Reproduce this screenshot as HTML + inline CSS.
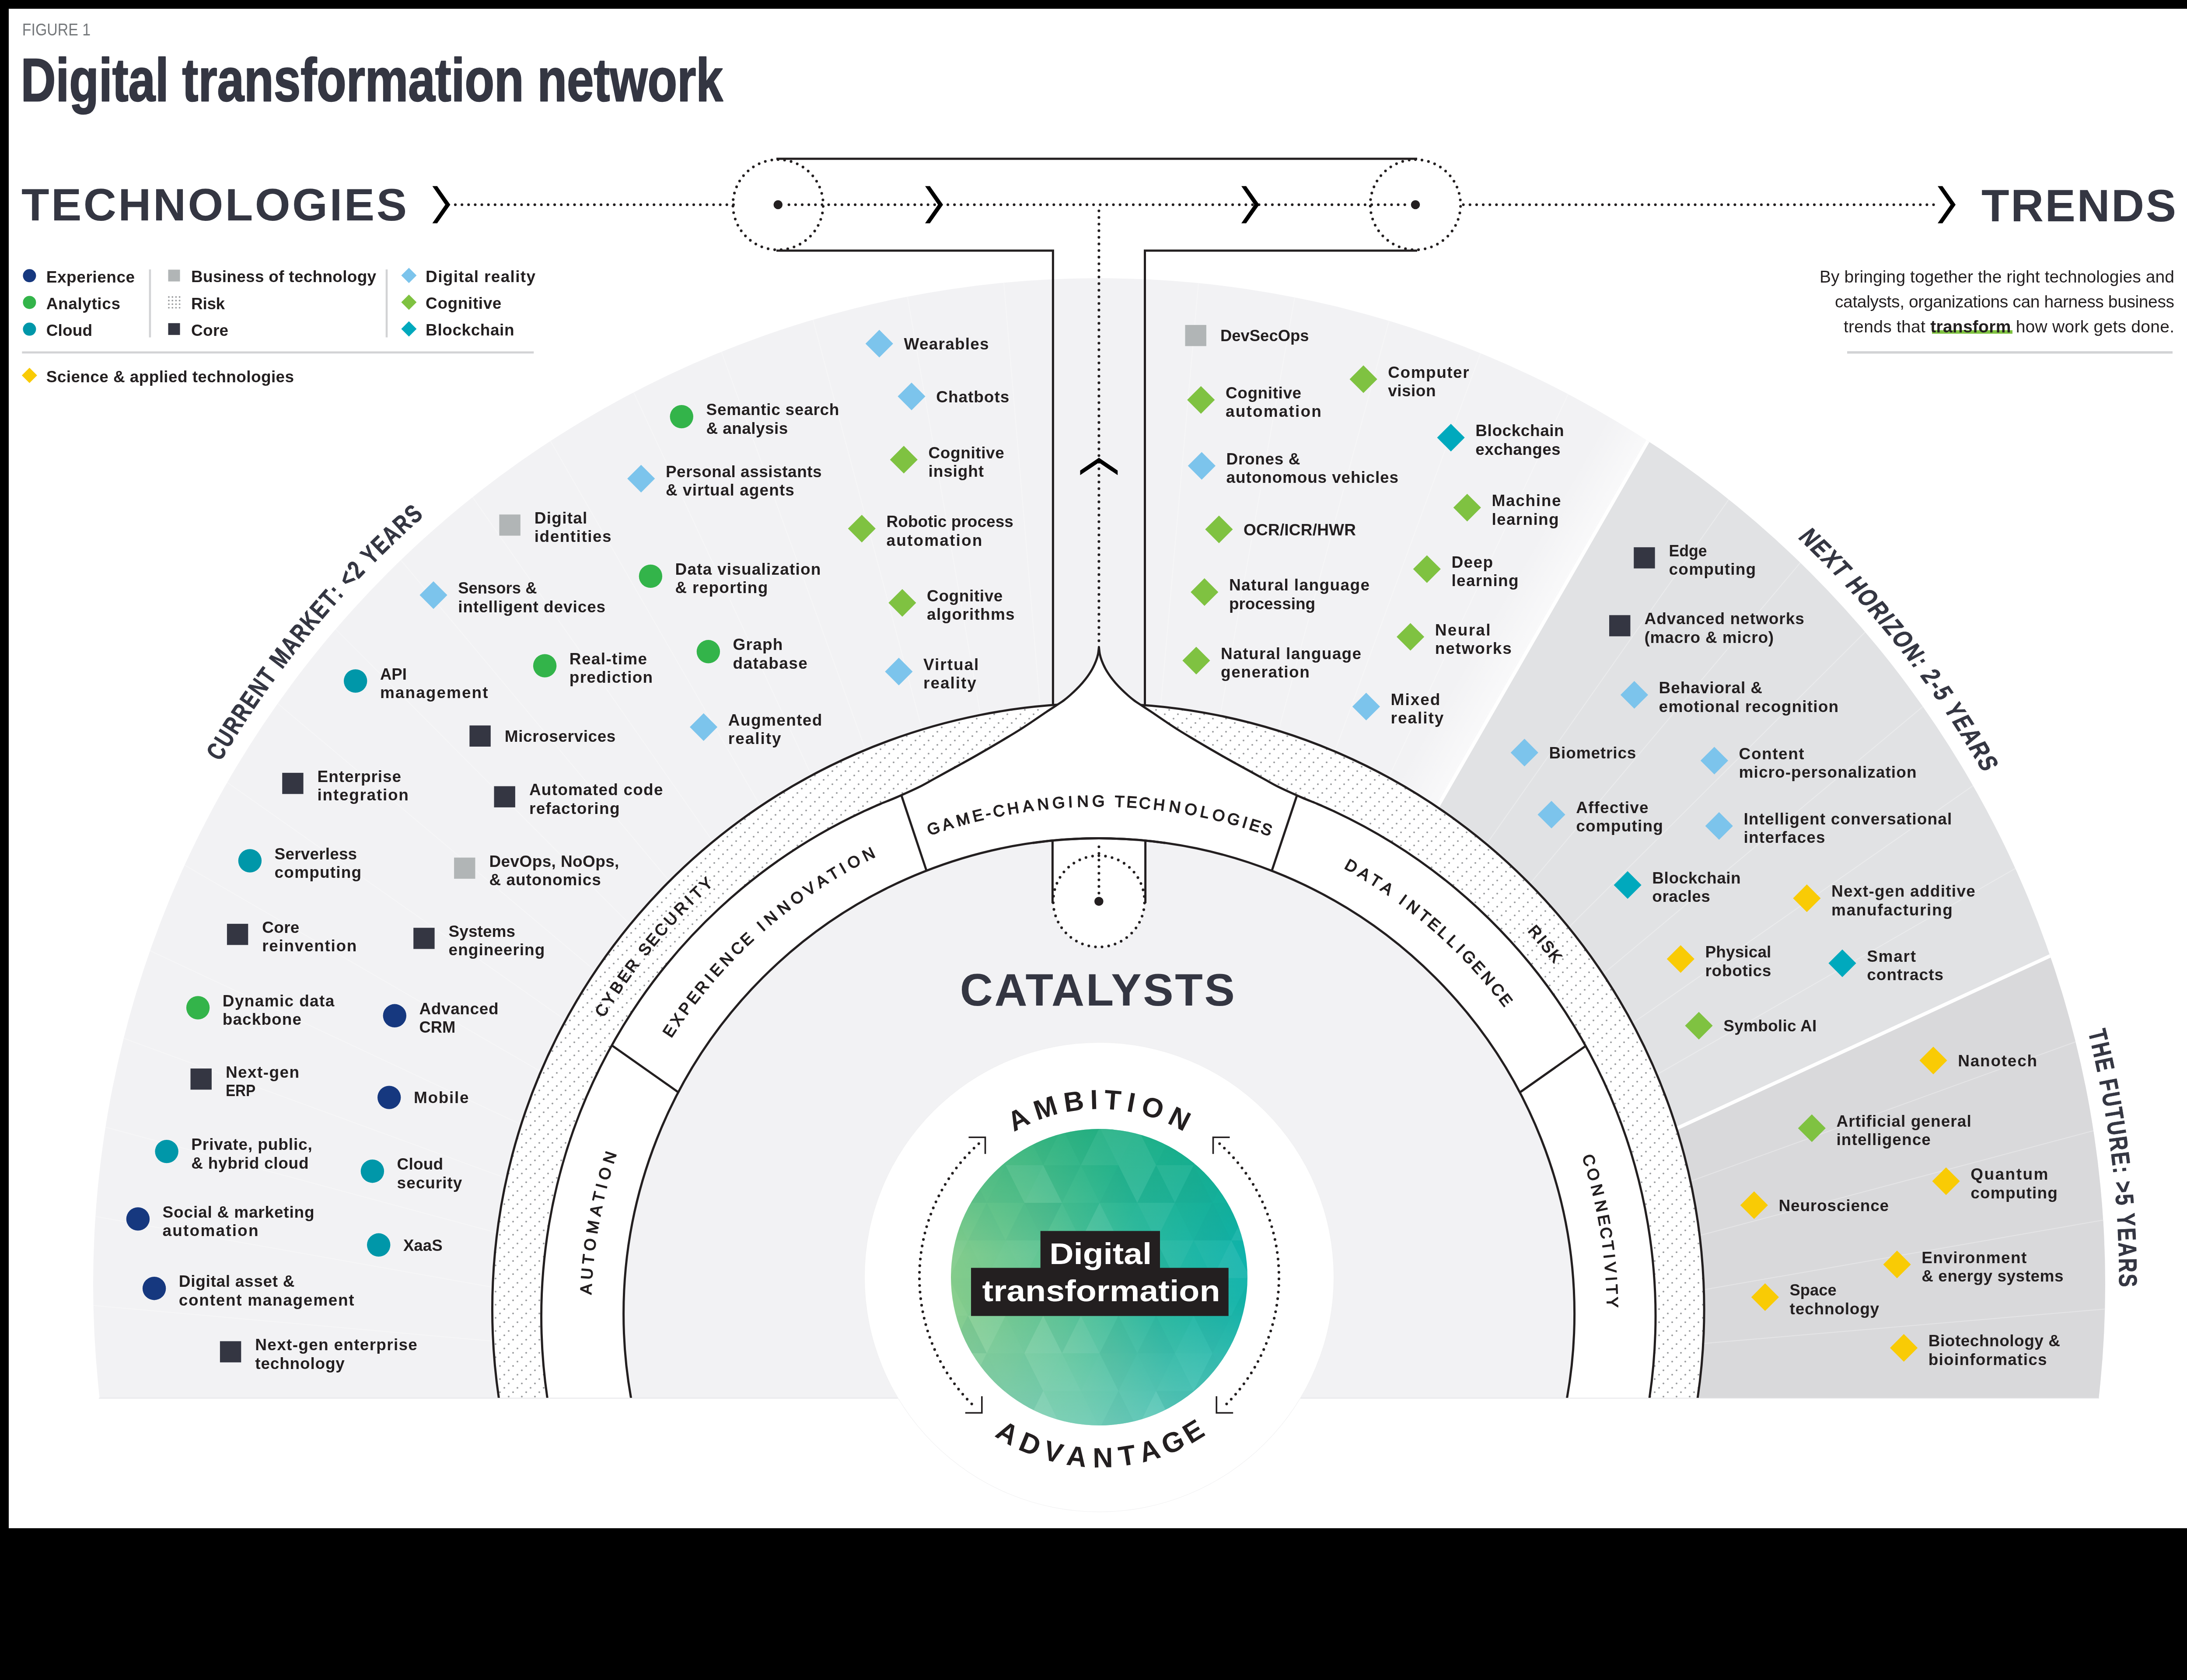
<!DOCTYPE html>
<html><head><meta charset="utf-8"><title>Digital transformation network</title><style>html,body{margin:0;padding:0;background:#000}svg{display:block;will-change:transform}</style></head><body>
<svg width="5040" height="3841" viewBox="0 0 5040 3841" font-family="Liberation Sans, sans-serif">
<defs>
<clipPath id="cut"><rect x="0" y="0" width="5040" height="3196"/></clipPath>
<clipPath id="oc"><circle cx="2513" cy="2936" r="2300"/></clipPath>
<pattern id="dots" width="30" height="30" patternUnits="userSpaceOnUse"><circle cx="3" cy="3" r="2.1" fill="#9b9d9f"/><circle cx="23" cy="13" r="2.1" fill="#9b9d9f"/><circle cx="13" cy="23" r="2.1" fill="#9b9d9f"/></pattern>
<linearGradient id="gg" x1="0" y1="0.62" x2="1" y2="0.38"><stop offset="0" stop-color="#8ace8b"/><stop offset="0.35" stop-color="#60c595"/><stop offset="0.65" stop-color="#2bb9a0"/><stop offset="1" stop-color="#0eb3ad"/></linearGradient>
<linearGradient id="lb" gradientUnits="userSpaceOnUse" x1="3260.7" y1="1889.7" x2="3165.4" y2="1834.8"><stop offset="0" stop-color="#fff" stop-opacity="0.55"/><stop offset="1" stop-color="#fff" stop-opacity="0"/></linearGradient>
<linearGradient id="gv" x1="0" y1="0" x2="0" y2="1"><stop offset="0" stop-color="#17a868" stop-opacity="0.5"/><stop offset="0.42" stop-color="#17a868" stop-opacity="0"/><stop offset="0.58" stop-color="#8fd8dc" stop-opacity="0"/><stop offset="1" stop-color="#8fd8dc" stop-opacity="0.5"/></linearGradient>
<clipPath id="gc"><circle cx="2513" cy="2920" r="339"/></clipPath>
</defs>
<rect width="5040" height="3841" fill="#000"/>
<rect x="20" y="20" width="5000" height="3474" fill="#fff"/>
<g clip-path="url(#cut)"><g clip-path="url(#oc)">
<rect x="0" y="0" width="5040" height="3841" fill="#f2f2f4"/>
<polygon points="2513,3190 4507,-277.6 6000,-1000 6144.1,1512.2" fill="#e1e2e4"/>
<polygon points="2513,3190 6144.1,1512.2 6000,3000 6452.2,3884.6" fill="#d9d9db"/>
<polygon points="2513,3190 4507,-277.6 4411.6,-332.4 2417.6,3135.2" fill="url(#lb)"/>
<line x1="2513" y1="3190" x2="-1471.2" y2="2834.4" stroke="#fff" stroke-opacity="0.3" stroke-width="2.2"/>
<line x1="2513" y1="3190" x2="-1425" y2="2488.5" stroke="#fff" stroke-opacity="0.3" stroke-width="2.2"/>
<line x1="2513" y1="3190" x2="-1348.9" y2="2148" stroke="#fff" stroke-opacity="0.3" stroke-width="2.2"/>
<line x1="2513" y1="3190" x2="-1243.4" y2="1815.4" stroke="#fff" stroke-opacity="0.3" stroke-width="2.2"/>
<line x1="2513" y1="3190" x2="-1109.3" y2="1493.2" stroke="#fff" stroke-opacity="0.3" stroke-width="2.2"/>
<line x1="2513" y1="3190" x2="-947.6" y2="1184" stroke="#fff" stroke-opacity="0.3" stroke-width="2.2"/>
<line x1="2513" y1="3190" x2="-759.6" y2="890" stroke="#fff" stroke-opacity="0.3" stroke-width="2.2"/>
<line x1="2513" y1="3190" x2="-546.7" y2="613.5" stroke="#fff" stroke-opacity="0.3" stroke-width="2.2"/>
<line x1="2513" y1="3190" x2="-310.5" y2="356.6" stroke="#fff" stroke-opacity="0.3" stroke-width="2.2"/>
<line x1="2513" y1="3190" x2="-52.8" y2="121.3" stroke="#fff" stroke-opacity="0.3" stroke-width="2.2"/>
<line x1="2513" y1="3190" x2="224.4" y2="-90.6" stroke="#fff" stroke-opacity="0.3" stroke-width="2.2"/>
<line x1="2513" y1="3190" x2="519" y2="-277.6" stroke="#fff" stroke-opacity="0.3" stroke-width="2.2"/>
<line x1="2513" y1="3190" x2="828.9" y2="-438.2" stroke="#fff" stroke-opacity="0.3" stroke-width="2.2"/>
<line x1="2513" y1="3190" x2="1151.5" y2="-571.2" stroke="#fff" stroke-opacity="0.3" stroke-width="2.2"/>
<line x1="2513" y1="3190" x2="1484.5" y2="-675.5" stroke="#fff" stroke-opacity="0.3" stroke-width="2.2"/>
<line x1="2513" y1="3190" x2="1825.3" y2="-750.4" stroke="#fff" stroke-opacity="0.3" stroke-width="2.2"/>
<line x1="2513" y1="3190" x2="2171.3" y2="-795.4" stroke="#fff" stroke-opacity="0.3" stroke-width="2.2"/>
<line x1="2513" y1="3190" x2="2868.6" y2="-794.2" stroke="#fff" stroke-opacity="0.3" stroke-width="2.2"/>
<line x1="2513" y1="3190" x2="3214.5" y2="-748" stroke="#fff" stroke-opacity="0.3" stroke-width="2.2"/>
<line x1="2513" y1="3190" x2="3555" y2="-671.9" stroke="#fff" stroke-opacity="0.3" stroke-width="2.2"/>
<line x1="2513" y1="3190" x2="3887.6" y2="-566.4" stroke="#fff" stroke-opacity="0.3" stroke-width="2.2"/>
<line x1="2513" y1="3190" x2="4209.8" y2="-432.3" stroke="#fff" stroke-opacity="0.3" stroke-width="2.2"/>
<line x1="2513" y1="3190" x2="4813" y2="-82.6" stroke="#fff" stroke-opacity="0.3" stroke-width="2.2"/>
<line x1="2513" y1="3190" x2="5089.5" y2="130.3" stroke="#fff" stroke-opacity="0.3" stroke-width="2.2"/>
<line x1="2513" y1="3190" x2="5346.4" y2="366.5" stroke="#fff" stroke-opacity="0.3" stroke-width="2.2"/>
<line x1="2513" y1="3190" x2="5581.7" y2="624.2" stroke="#fff" stroke-opacity="0.3" stroke-width="2.2"/>
<line x1="2513" y1="3190" x2="5793.6" y2="901.4" stroke="#fff" stroke-opacity="0.3" stroke-width="2.2"/>
<line x1="2513" y1="3190" x2="5980.6" y2="1196" stroke="#fff" stroke-opacity="0.3" stroke-width="2.2"/>
<line x1="2513" y1="3190" x2="6274.2" y2="1828.5" stroke="#fff" stroke-opacity="0.3" stroke-width="2.2"/>
<line x1="2513" y1="3190" x2="6378.5" y2="2161.5" stroke="#fff" stroke-opacity="0.3" stroke-width="2.2"/>
<line x1="2513" y1="3190" x2="6453.4" y2="2502.3" stroke="#fff" stroke-opacity="0.3" stroke-width="2.2"/>
<line x1="2513" y1="3190" x2="6498.4" y2="2848.3" stroke="#fff" stroke-opacity="0.3" stroke-width="2.2"/>
<line x1="2513" y1="3190" x2="4507" y2="-277.6" stroke="#fff" stroke-width="8"/>
<line x1="2513" y1="3190" x2="6144.1" y2="1512.2" stroke="#fff" stroke-width="8"/>
</g></g>
<g clip-path="url(#cut)">
<path d="M1140.4 3196A1385.3 1385.3 0 0 1 2407.4 1611.9L2407.4 1651.9L2617.5 1652.1L2617.5 1612.1A1385.3 1385.3 0 0 1 3881.2 3196Z" fill="#fff"/>
<path d="M1140.4 3196A1385.3 1385.3 0 0 1 2407.4 1611.9L2407.4 1651.9L2617.5 1652.1L2617.5 1612.1A1385.3 1385.3 0 0 1 3881.2 3196Z" fill="url(#dots)"/>
<path d="M1141.6 3204A1385.3 1385.3 0 1 1 3880 3204" fill="none" stroke="#231f20" stroke-width="5"/>
<path d="M1251.3 3196A1273.6 1273.6 0 0 1 1973 1855.7C1979.7 1852.7 2001 1843 2013.6 1837.6C2026.2 1832.3 2034.2 1829.7 2048.6 1823.4C2063 1817.1 2086 1806.8 2100 1800C2114 1793.2 2121.8 1788.3 2132.6 1782.4C2143.4 1776.5 2154.1 1770.5 2165 1764.5C2175.9 1758.5 2187 1752.5 2198 1746.4C2209 1740.3 2220.2 1734.2 2231 1728C2241.8 1721.8 2252.2 1715.8 2263 1709.5C2273.8 1703.2 2285 1696.6 2296 1690C2307 1683.4 2318.2 1676.8 2329 1670C2339.8 1663.2 2350.2 1656.2 2361 1649C2371.8 1641.8 2384.7 1632.8 2394 1626.5C2403.3 1620.2 2410.6 1615.8 2417 1611.5C2423.4 1607.2 2427.6 1604.7 2432.5 1601C2437.4 1597.3 2441.8 1593.6 2446.4 1589.5C2451 1585.4 2455.7 1581.1 2460.3 1576.5C2464.9 1571.9 2469.8 1566.8 2474.2 1561.8C2478.6 1556.8 2482.7 1551.8 2486.5 1546.4C2490.3 1541 2494.1 1535.3 2497.3 1529.4C2500.5 1523.5 2503.6 1516.6 2505.8 1510.9C2508 1505.2 2509.3 1500.8 2510.4 1495.5C2511.5 1490.2 2512.1 1482 2512.4 1479.3C2512.7 1482 2513.3 1490.2 2514.4 1495.5C2515.5 1500.8 2516.8 1505.2 2519 1510.9C2521.2 1516.6 2524.3 1523.5 2527.5 1529.4C2530.7 1535.3 2534.5 1541 2538.3 1546.4C2542.2 1551.8 2546.2 1556.8 2550.6 1561.8C2555 1566.8 2559.9 1571.9 2564.5 1576.5C2569.1 1581.1 2573.8 1585.4 2578.4 1589.5C2583 1593.6 2587.4 1597.3 2592.3 1601C2597.2 1604.7 2601.4 1607.2 2607.8 1611.5C2614.2 1615.8 2621.5 1620.2 2630.8 1626.5C2640.1 1632.8 2653 1641.8 2663.8 1649C2674.6 1656.2 2685 1663.2 2695.8 1670C2706.6 1676.8 2717.8 1683.4 2728.8 1690C2739.8 1696.6 2751 1703.2 2761.8 1709.5C2772.6 1715.8 2783 1721.8 2793.8 1728C2804.6 1734.2 2815.8 1740.3 2826.8 1746.4C2837.8 1752.5 2848.9 1758.5 2859.8 1764.5C2870.7 1770.5 2881.4 1776.5 2892.2 1782.4C2903 1788.3 2910.8 1793.2 2924.8 1800C2938.8 1806.8 2961.8 1817.1 2976.2 1823.4C2990.6 1829.7 2998.6 1832.3 3011.2 1837.6C3023.8 1843 3045.1 1852.7 3051.8 1855.7A1273.6 1273.6 0 0 1 3771.1 3196Z" fill="#fff"/>
<circle cx="2512.6" cy="3003.6" r="1087" fill="#f2f2f4"/>
</g>
<g clip-path="url(#cut)" fill="none" stroke="#231f20" stroke-width="5" stroke-linejoin="round">
<path d="M1251.3 3196A1273.6 1273.6 0 0 1 1973 1855.7C1979.7 1852.7 2001 1843 2013.6 1837.6C2026.2 1832.3 2034.2 1829.7 2048.6 1823.4C2063 1817.1 2086 1806.8 2100 1800C2114 1793.2 2121.8 1788.3 2132.6 1782.4C2143.4 1776.5 2154.1 1770.5 2165 1764.5C2175.9 1758.5 2187 1752.5 2198 1746.4C2209 1740.3 2220.2 1734.2 2231 1728C2241.8 1721.8 2252.2 1715.8 2263 1709.5C2273.8 1703.2 2285 1696.6 2296 1690C2307 1683.4 2318.2 1676.8 2329 1670C2339.8 1663.2 2350.2 1656.2 2361 1649C2371.8 1641.8 2384.7 1632.8 2394 1626.5C2403.3 1620.2 2410.6 1615.8 2417 1611.5C2423.4 1607.2 2427.6 1604.7 2432.5 1601C2437.4 1597.3 2441.8 1593.6 2446.4 1589.5C2451 1585.4 2455.7 1581.1 2460.3 1576.5C2464.9 1571.9 2469.8 1566.8 2474.2 1561.8C2478.6 1556.8 2482.7 1551.8 2486.5 1546.4C2490.3 1541 2494.1 1535.3 2497.3 1529.4C2500.5 1523.5 2503.6 1516.6 2505.8 1510.9C2508 1505.2 2509.3 1500.8 2510.4 1495.5C2511.5 1490.2 2512.1 1482 2512.4 1479.3C2512.7 1482 2513.3 1490.2 2514.4 1495.5C2515.5 1500.8 2516.8 1505.2 2519 1510.9C2521.2 1516.6 2524.3 1523.5 2527.5 1529.4C2530.7 1535.3 2534.5 1541 2538.3 1546.4C2542.2 1551.8 2546.2 1556.8 2550.6 1561.8C2555 1566.8 2559.9 1571.9 2564.5 1576.5C2569.1 1581.1 2573.8 1585.4 2578.4 1589.5C2583 1593.6 2587.4 1597.3 2592.3 1601C2597.2 1604.7 2601.4 1607.2 2607.8 1611.5C2614.2 1615.8 2621.5 1620.2 2630.8 1626.5C2640.1 1632.8 2653 1641.8 2663.8 1649C2674.6 1656.2 2685 1663.2 2695.8 1670C2706.6 1676.8 2717.8 1683.4 2728.8 1690C2739.8 1696.6 2751 1703.2 2761.8 1709.5C2772.6 1715.8 2783 1721.8 2793.8 1728C2804.6 1734.2 2815.8 1740.3 2826.8 1746.4C2837.8 1752.5 2848.9 1758.5 2859.8 1764.5C2870.7 1770.5 2881.4 1776.5 2892.2 1782.4C2903 1788.3 2910.8 1793.2 2924.8 1800C2938.8 1806.8 2961.8 1817.1 2976.2 1823.4C2990.6 1829.7 2998.6 1832.3 3011.2 1837.6C3023.8 1843 3045.1 1852.7 3051.8 1855.7A1273.6 1273.6 0 0 1 3771.1 3196"/>
<circle cx="2512.6" cy="3003.6" r="1087"/>
<line x1="1398.7" y1="2390" x2="1550.8" y2="2497.2"/>
<line x1="2060.9" y1="1818.6" x2="2118.2" y2="1990.7"/>
<line x1="2964.7" y1="1819.9" x2="2907.7" y2="1990.9"/>
<line x1="3624.7" y1="2391.8" x2="3474.7" y2="2497.6"/>
</g>
<g fill="none" stroke="#231f20" stroke-width="5" stroke-linejoin="miter">
<path d="M1775 363H3240"/>
<path d="M1775 573H2407.4 V1611.9"/>
<path d="M3240 573H2617.5 V1612.1"/>
</g>
<path d="M2406.4 1921.8 V2062 H2618.6 V1921.8 Z" fill="#fff"/>
<circle cx="2512.3" cy="2060.7" r="104.4" fill="#fff"/>
<path d="M2406.4 1921.8 V2065 M2618.6 1921.8 V2065" fill="none" stroke="#231f20" stroke-width="5"/>
<path d="M2361.3 1927.2A1087 1087 0 0 1 2663.9 1927.2" fill="none" stroke="#231f20" stroke-width="5"/>
<circle cx="2512.3" cy="2060.7" r="104.4" fill="none" stroke="#231f20" stroke-width="6.2" stroke-linecap="round" stroke-dasharray="0 15.255" transform="rotate(-90 2512.3 2060.7)"/>
<circle cx="1778.8" cy="468" r="103.2" fill="none" stroke="#231f20" stroke-width="6.2" stroke-linecap="round" stroke-dasharray="0 15.080" transform="rotate(-90 1778.8 468)"/>
<circle cx="3236" cy="468" r="103.2" fill="none" stroke="#231f20" stroke-width="6.2" stroke-linecap="round" stroke-dasharray="0 15.080" transform="rotate(-90 3236 468)"/>
<circle cx="2512.3" cy="2060.7" r="10.3" fill="#231f20"/>
<circle cx="1778.8" cy="468" r="10.3" fill="#231f20"/>
<circle cx="3236" cy="468" r="10.3" fill="#231f20"/>
<path d="M1041 468H1677" fill="none" stroke="#231f20" stroke-width="6.2" stroke-linecap="round" stroke-dasharray="0 15.14"/>
<path d="M1803.7 468H3222" fill="none" stroke="#231f20" stroke-width="6.2" stroke-linecap="round" stroke-dasharray="0 15.14"/>
<path d="M3345.6 468H4428" fill="none" stroke="#231f20" stroke-width="6.2" stroke-linecap="round" stroke-dasharray="0 15.14"/>
<path d="M2512.4 482.1V1468" fill="none" stroke="#231f20" stroke-width="6.2" stroke-linecap="round" stroke-dasharray="0 15.12"/>
<path d="M2512.4 1936V2046" fill="none" stroke="#231f20" stroke-width="6.2" stroke-linecap="round" stroke-dasharray="0 15.12"/>
<polygon points="988.5,425.6 999.5,425.6 1029.5,468 999.5,510.4 988.5,510.4 1018,468" fill="#000"/>
<polygon points="2115,425.6 2126,425.6 2156,468 2126,510.4 2115,510.4 2144.5,468" fill="#000"/>
<polygon points="2838,425.6 2849,425.6 2879,468 2849,510.4 2838,510.4 2867.5,468" fill="#000"/>
<polygon points="4430,425.6 4441,425.6 4471,468 4441,510.4 4430,510.4 4459.5,468" fill="#000"/>
<polygon points="2512.4,1046.6 2469.5,1075.7 2469.5,1086.2 2512.4,1057.6 2555.2,1086.2 2555.2,1075.7" fill="#000"/>
<rect x="226" y="3195.8" width="4573" height="1.6" fill="#e2e2e4"/>
<circle cx="2513" cy="2920" r="537.2" fill="#f1f1f2"/>
<circle cx="2513" cy="2920" r="536" fill="#fff"/>
<g clip-path="url(#gc)">
<rect x="2170" y="2578" width="690" height="690" fill="url(#gg)"/>
<rect x="2170" y="2578" width="690" height="690" fill="url(#gv)"/>
<polygon points="2084,2578 2170,2578 2127,2664" fill="#fff" fill-opacity="0.029"/>
<polygon points="2170,2578 2213,2664 2127,2664" fill="#fff" fill-opacity="0.059"/>
<polygon points="2170,2578 2256,2578 2213,2664" fill="#fff" fill-opacity="0.048"/>
<polygon points="2256,2578 2299,2664 2213,2664" fill="#0a7f6f" fill-opacity="0.005"/>
<polygon points="2256,2578 2342,2578 2299,2664" fill="#fff" fill-opacity="0.003"/>
<polygon points="2342,2578 2385,2664 2299,2664" fill="#fff" fill-opacity="0.006"/>
<polygon points="2342,2578 2428,2578 2385,2664" fill="#0a7f6f" fill-opacity="0.038"/>
<polygon points="2428,2578 2471,2664 2385,2664" fill="#fff" fill-opacity="0.011"/>
<polygon points="2428,2578 2514,2578 2471,2664" fill="#0a7f6f" fill-opacity="0.056"/>
<polygon points="2514,2578 2557,2664 2471,2664" fill="#fff" fill-opacity="0.052"/>
<polygon points="2514,2578 2600,2578 2557,2664" fill="#fff" fill-opacity="0.088"/>
<polygon points="2600,2578 2643,2664 2557,2664" fill="#fff" fill-opacity="0.077"/>
<polygon points="2600,2578 2686,2578 2643,2664" fill="#fff" fill-opacity="0.013"/>
<polygon points="2686,2578 2729,2664 2643,2664" fill="#0a7f6f" fill-opacity="0.028"/>
<polygon points="2686,2578 2772,2578 2729,2664" fill="#0a7f6f" fill-opacity="0.016"/>
<polygon points="2772,2578 2815,2664 2729,2664" fill="#fff" fill-opacity="0.058"/>
<polygon points="2772,2578 2858,2578 2815,2664" fill="#fff" fill-opacity="0.049"/>
<polygon points="2858,2578 2901,2664 2815,2664" fill="#fff" fill-opacity="0.005"/>
<polygon points="2858,2578 2944,2578 2901,2664" fill="#fff" fill-opacity="0.061"/>
<polygon points="2944,2578 2987,2664 2901,2664" fill="#0a7f6f" fill-opacity="0.028"/>
<polygon points="2127,2664 2213,2664 2170,2750" fill="#fff" fill-opacity="0.041"/>
<polygon points="2213,2664 2256,2750 2170,2750" fill="#0a7f6f" fill-opacity="0.071"/>
<polygon points="2213,2664 2299,2664 2256,2750" fill="#0a7f6f" fill-opacity="0.022"/>
<polygon points="2299,2664 2342,2750 2256,2750" fill="#0a7f6f" fill-opacity="0.047"/>
<polygon points="2299,2664 2385,2664 2342,2750" fill="#fff" fill-opacity="0.066"/>
<polygon points="2385,2664 2428,2750 2342,2750" fill="#fff" fill-opacity="0.088"/>
<polygon points="2385,2664 2471,2664 2428,2750" fill="#0a7f6f" fill-opacity="0.038"/>
<polygon points="2471,2664 2514,2750 2428,2750" fill="#fff" fill-opacity="0.014"/>
<polygon points="2471,2664 2557,2664 2514,2750" fill="#0a7f6f" fill-opacity="0.004"/>
<polygon points="2557,2664 2600,2750 2514,2750" fill="#0a7f6f" fill-opacity="0.069"/>
<polygon points="2557,2664 2643,2664 2600,2750" fill="#fff" fill-opacity="0.079"/>
<polygon points="2643,2664 2686,2750 2600,2750" fill="#0a7f6f" fill-opacity="0.063"/>
<polygon points="2643,2664 2729,2664 2686,2750" fill="#fff" fill-opacity="0.052"/>
<polygon points="2729,2664 2772,2750 2686,2750" fill="#0a7f6f" fill-opacity="0.076"/>
<polygon points="2729,2664 2815,2664 2772,2750" fill="#0a7f6f" fill-opacity="0.043"/>
<polygon points="2815,2664 2858,2750 2772,2750" fill="#0a7f6f" fill-opacity="0.005"/>
<polygon points="2815,2664 2901,2664 2858,2750" fill="#0a7f6f" fill-opacity="0.058"/>
<polygon points="2901,2664 2944,2750 2858,2750" fill="#fff" fill-opacity="0.074"/>
<polygon points="2901,2664 2987,2664 2944,2750" fill="#0a7f6f" fill-opacity="0.035"/>
<polygon points="2987,2664 3030,2750 2944,2750" fill="#fff" fill-opacity="0.002"/>
<polygon points="2084,2750 2170,2750 2127,2836" fill="#fff" fill-opacity="0.015"/>
<polygon points="2170,2750 2213,2836 2127,2836" fill="#0a7f6f" fill-opacity="0.005"/>
<polygon points="2170,2750 2256,2750 2213,2836" fill="#fff" fill-opacity="0.012"/>
<polygon points="2256,2750 2299,2836 2213,2836" fill="#0a7f6f" fill-opacity="0.035"/>
<polygon points="2256,2750 2342,2750 2299,2836" fill="#fff" fill-opacity="0.007"/>
<polygon points="2342,2750 2385,2836 2299,2836" fill="#0a7f6f" fill-opacity="0.049"/>
<polygon points="2342,2750 2428,2750 2385,2836" fill="#0a7f6f" fill-opacity="0.074"/>
<polygon points="2428,2750 2471,2836 2385,2836" fill="#fff" fill-opacity="0.025"/>
<polygon points="2428,2750 2514,2750 2471,2836" fill="#0a7f6f" fill-opacity="0.032"/>
<polygon points="2514,2750 2557,2836 2471,2836" fill="#fff" fill-opacity="0.086"/>
<polygon points="2514,2750 2600,2750 2557,2836" fill="#fff" fill-opacity="0.016"/>
<polygon points="2600,2750 2643,2836 2557,2836" fill="#fff" fill-opacity="0.021"/>
<polygon points="2600,2750 2686,2750 2643,2836" fill="#fff" fill-opacity="0.053"/>
<polygon points="2686,2750 2729,2836 2643,2836" fill="#fff" fill-opacity="0.000"/>
<polygon points="2686,2750 2772,2750 2729,2836" fill="#0a7f6f" fill-opacity="0.033"/>
<polygon points="2772,2750 2815,2836 2729,2836" fill="#0a7f6f" fill-opacity="0.086"/>
<polygon points="2772,2750 2858,2750 2815,2836" fill="#0a7f6f" fill-opacity="0.046"/>
<polygon points="2858,2750 2901,2836 2815,2836" fill="#fff" fill-opacity="0.061"/>
<polygon points="2858,2750 2944,2750 2901,2836" fill="#0a7f6f" fill-opacity="0.081"/>
<polygon points="2944,2750 2987,2836 2901,2836" fill="#0a7f6f" fill-opacity="0.079"/>
<polygon points="2127,2836 2213,2836 2170,2922" fill="#fff" fill-opacity="0.035"/>
<polygon points="2213,2836 2256,2922 2170,2922" fill="#0a7f6f" fill-opacity="0.009"/>
<polygon points="2213,2836 2299,2836 2256,2922" fill="#fff" fill-opacity="0.006"/>
<polygon points="2299,2836 2342,2922 2256,2922" fill="#fff" fill-opacity="0.019"/>
<polygon points="2299,2836 2385,2836 2342,2922" fill="#fff" fill-opacity="0.031"/>
<polygon points="2385,2836 2428,2922 2342,2922" fill="#fff" fill-opacity="0.000"/>
<polygon points="2385,2836 2471,2836 2428,2922" fill="#fff" fill-opacity="0.009"/>
<polygon points="2471,2836 2514,2922 2428,2922" fill="#0a7f6f" fill-opacity="0.002"/>
<polygon points="2471,2836 2557,2836 2514,2922" fill="#fff" fill-opacity="0.055"/>
<polygon points="2557,2836 2600,2922 2514,2922" fill="#fff" fill-opacity="0.023"/>
<polygon points="2557,2836 2643,2836 2600,2922" fill="#fff" fill-opacity="0.033"/>
<polygon points="2643,2836 2686,2922 2600,2922" fill="#0a7f6f" fill-opacity="0.076"/>
<polygon points="2643,2836 2729,2836 2686,2922" fill="#fff" fill-opacity="0.042"/>
<polygon points="2729,2836 2772,2922 2686,2922" fill="#fff" fill-opacity="0.008"/>
<polygon points="2729,2836 2815,2836 2772,2922" fill="#fff" fill-opacity="0.031"/>
<polygon points="2815,2836 2858,2922 2772,2922" fill="#fff" fill-opacity="0.075"/>
<polygon points="2815,2836 2901,2836 2858,2922" fill="#0a7f6f" fill-opacity="0.002"/>
<polygon points="2901,2836 2944,2922 2858,2922" fill="#fff" fill-opacity="0.048"/>
<polygon points="2901,2836 2987,2836 2944,2922" fill="#fff" fill-opacity="0.049"/>
<polygon points="2987,2836 3030,2922 2944,2922" fill="#0a7f6f" fill-opacity="0.048"/>
<polygon points="2084,2922 2170,2922 2127,3008" fill="#0a7f6f" fill-opacity="0.078"/>
<polygon points="2170,2922 2213,3008 2127,3008" fill="#fff" fill-opacity="0.024"/>
<polygon points="2170,2922 2256,2922 2213,3008" fill="#0a7f6f" fill-opacity="0.015"/>
<polygon points="2256,2922 2299,3008 2213,3008" fill="#0a7f6f" fill-opacity="0.048"/>
<polygon points="2256,2922 2342,2922 2299,3008" fill="#fff" fill-opacity="0.030"/>
<polygon points="2342,2922 2385,3008 2299,3008" fill="#0a7f6f" fill-opacity="0.073"/>
<polygon points="2342,2922 2428,2922 2385,3008" fill="#0a7f6f" fill-opacity="0.077"/>
<polygon points="2428,2922 2471,3008 2385,3008" fill="#0a7f6f" fill-opacity="0.074"/>
<polygon points="2428,2922 2514,2922 2471,3008" fill="#0a7f6f" fill-opacity="0.020"/>
<polygon points="2514,2922 2557,3008 2471,3008" fill="#fff" fill-opacity="0.032"/>
<polygon points="2514,2922 2600,2922 2557,3008" fill="#fff" fill-opacity="0.003"/>
<polygon points="2600,2922 2643,3008 2557,3008" fill="#0a7f6f" fill-opacity="0.023"/>
<polygon points="2600,2922 2686,2922 2643,3008" fill="#fff" fill-opacity="0.086"/>
<polygon points="2686,2922 2729,3008 2643,3008" fill="#0a7f6f" fill-opacity="0.084"/>
<polygon points="2686,2922 2772,2922 2729,3008" fill="#fff" fill-opacity="0.086"/>
<polygon points="2772,2922 2815,3008 2729,3008" fill="#fff" fill-opacity="0.020"/>
<polygon points="2772,2922 2858,2922 2815,3008" fill="#fff" fill-opacity="0.018"/>
<polygon points="2858,2922 2901,3008 2815,3008" fill="#0a7f6f" fill-opacity="0.056"/>
<polygon points="2858,2922 2944,2922 2901,3008" fill="#fff" fill-opacity="0.076"/>
<polygon points="2944,2922 2987,3008 2901,3008" fill="#0a7f6f" fill-opacity="0.059"/>
<polygon points="2127,3008 2213,3008 2170,3094" fill="#0a7f6f" fill-opacity="0.008"/>
<polygon points="2213,3008 2256,3094 2170,3094" fill="#0a7f6f" fill-opacity="0.082"/>
<polygon points="2213,3008 2299,3008 2256,3094" fill="#fff" fill-opacity="0.068"/>
<polygon points="2299,3008 2342,3094 2256,3094" fill="#0a7f6f" fill-opacity="0.016"/>
<polygon points="2299,3008 2385,3008 2342,3094" fill="#0a7f6f" fill-opacity="0.030"/>
<polygon points="2385,3008 2428,3094 2342,3094" fill="#fff" fill-opacity="0.087"/>
<polygon points="2385,3008 2471,3008 2428,3094" fill="#0a7f6f" fill-opacity="0.036"/>
<polygon points="2471,3008 2514,3094 2428,3094" fill="#fff" fill-opacity="0.065"/>
<polygon points="2471,3008 2557,3008 2514,3094" fill="#fff" fill-opacity="0.011"/>
<polygon points="2557,3008 2600,3094 2514,3094" fill="#0a7f6f" fill-opacity="0.081"/>
<polygon points="2557,3008 2643,3008 2600,3094" fill="#0a7f6f" fill-opacity="0.013"/>
<polygon points="2643,3008 2686,3094 2600,3094" fill="#0a7f6f" fill-opacity="0.088"/>
<polygon points="2643,3008 2729,3008 2686,3094" fill="#0a7f6f" fill-opacity="0.032"/>
<polygon points="2729,3008 2772,3094 2686,3094" fill="#fff" fill-opacity="0.012"/>
<polygon points="2729,3008 2815,3008 2772,3094" fill="#0a7f6f" fill-opacity="0.087"/>
<polygon points="2815,3008 2858,3094 2772,3094" fill="#0a7f6f" fill-opacity="0.047"/>
<polygon points="2815,3008 2901,3008 2858,3094" fill="#0a7f6f" fill-opacity="0.039"/>
<polygon points="2901,3008 2944,3094 2858,3094" fill="#fff" fill-opacity="0.074"/>
<polygon points="2901,3008 2987,3008 2944,3094" fill="#fff" fill-opacity="0.023"/>
<polygon points="2987,3008 3030,3094 2944,3094" fill="#0a7f6f" fill-opacity="0.022"/>
<polygon points="2084,3094 2170,3094 2127,3180" fill="#fff" fill-opacity="0.023"/>
<polygon points="2170,3094 2213,3180 2127,3180" fill="#0a7f6f" fill-opacity="0.012"/>
<polygon points="2170,3094 2256,3094 2213,3180" fill="#fff" fill-opacity="0.032"/>
<polygon points="2256,3094 2299,3180 2213,3180" fill="#0a7f6f" fill-opacity="0.053"/>
<polygon points="2256,3094 2342,3094 2299,3180" fill="#0a7f6f" fill-opacity="0.038"/>
<polygon points="2342,3094 2385,3180 2299,3180" fill="#0a7f6f" fill-opacity="0.045"/>
<polygon points="2342,3094 2428,3094 2385,3180" fill="#fff" fill-opacity="0.047"/>
<polygon points="2428,3094 2471,3180 2385,3180" fill="#fff" fill-opacity="0.040"/>
<polygon points="2428,3094 2514,3094 2471,3180" fill="#0a7f6f" fill-opacity="0.000"/>
<polygon points="2514,3094 2557,3180 2471,3180" fill="#fff" fill-opacity="0.016"/>
<polygon points="2514,3094 2600,3094 2557,3180" fill="#0a7f6f" fill-opacity="0.065"/>
<polygon points="2600,3094 2643,3180 2557,3180" fill="#0a7f6f" fill-opacity="0.029"/>
<polygon points="2600,3094 2686,3094 2643,3180" fill="#0a7f6f" fill-opacity="0.050"/>
<polygon points="2686,3094 2729,3180 2643,3180" fill="#0a7f6f" fill-opacity="0.010"/>
<polygon points="2686,3094 2772,3094 2729,3180" fill="#fff" fill-opacity="0.022"/>
<polygon points="2772,3094 2815,3180 2729,3180" fill="#0a7f6f" fill-opacity="0.070"/>
<polygon points="2772,3094 2858,3094 2815,3180" fill="#0a7f6f" fill-opacity="0.051"/>
<polygon points="2858,3094 2901,3180 2815,3180" fill="#fff" fill-opacity="0.082"/>
<polygon points="2858,3094 2944,3094 2901,3180" fill="#0a7f6f" fill-opacity="0.055"/>
<polygon points="2944,3094 2987,3180 2901,3180" fill="#0a7f6f" fill-opacity="0.046"/>
<polygon points="2127,3180 2213,3180 2170,3266" fill="#0a7f6f" fill-opacity="0.041"/>
<polygon points="2213,3180 2256,3266 2170,3266" fill="#0a7f6f" fill-opacity="0.043"/>
<polygon points="2213,3180 2299,3180 2256,3266" fill="#0a7f6f" fill-opacity="0.063"/>
<polygon points="2299,3180 2342,3266 2256,3266" fill="#fff" fill-opacity="0.085"/>
<polygon points="2299,3180 2385,3180 2342,3266" fill="#0a7f6f" fill-opacity="0.050"/>
<polygon points="2385,3180 2428,3266 2342,3266" fill="#fff" fill-opacity="0.076"/>
<polygon points="2385,3180 2471,3180 2428,3266" fill="#fff" fill-opacity="0.011"/>
<polygon points="2471,3180 2514,3266 2428,3266" fill="#fff" fill-opacity="0.007"/>
<polygon points="2471,3180 2557,3180 2514,3266" fill="#0a7f6f" fill-opacity="0.007"/>
<polygon points="2557,3180 2600,3266 2514,3266" fill="#0a7f6f" fill-opacity="0.071"/>
<polygon points="2557,3180 2643,3180 2600,3266" fill="#0a7f6f" fill-opacity="0.014"/>
<polygon points="2643,3180 2686,3266 2600,3266" fill="#fff" fill-opacity="0.059"/>
<polygon points="2643,3180 2729,3180 2686,3266" fill="#0a7f6f" fill-opacity="0.079"/>
<polygon points="2729,3180 2772,3266 2686,3266" fill="#0a7f6f" fill-opacity="0.020"/>
<polygon points="2729,3180 2815,3180 2772,3266" fill="#fff" fill-opacity="0.036"/>
<polygon points="2815,3180 2858,3266 2772,3266" fill="#0a7f6f" fill-opacity="0.089"/>
<polygon points="2815,3180 2901,3180 2858,3266" fill="#fff" fill-opacity="0.015"/>
<polygon points="2901,3180 2944,3266 2858,3266" fill="#fff" fill-opacity="0.046"/>
<polygon points="2901,3180 2987,3180 2944,3266" fill="#fff" fill-opacity="0.018"/>
<polygon points="2987,3180 3030,3266 2944,3266" fill="#fff" fill-opacity="0.065"/>
<polygon points="2084,3266 2170,3266 2127,3352" fill="#fff" fill-opacity="0.050"/>
<polygon points="2170,3266 2213,3352 2127,3352" fill="#fff" fill-opacity="0.002"/>
<polygon points="2170,3266 2256,3266 2213,3352" fill="#0a7f6f" fill-opacity="0.056"/>
<polygon points="2256,3266 2299,3352 2213,3352" fill="#0a7f6f" fill-opacity="0.006"/>
<polygon points="2256,3266 2342,3266 2299,3352" fill="#0a7f6f" fill-opacity="0.071"/>
<polygon points="2342,3266 2385,3352 2299,3352" fill="#fff" fill-opacity="0.009"/>
<polygon points="2342,3266 2428,3266 2385,3352" fill="#0a7f6f" fill-opacity="0.004"/>
<polygon points="2428,3266 2471,3352 2385,3352" fill="#fff" fill-opacity="0.024"/>
<polygon points="2428,3266 2514,3266 2471,3352" fill="#0a7f6f" fill-opacity="0.038"/>
<polygon points="2514,3266 2557,3352 2471,3352" fill="#fff" fill-opacity="0.074"/>
<polygon points="2514,3266 2600,3266 2557,3352" fill="#0a7f6f" fill-opacity="0.013"/>
<polygon points="2600,3266 2643,3352 2557,3352" fill="#0a7f6f" fill-opacity="0.051"/>
<polygon points="2600,3266 2686,3266 2643,3352" fill="#fff" fill-opacity="0.008"/>
<polygon points="2686,3266 2729,3352 2643,3352" fill="#fff" fill-opacity="0.062"/>
<polygon points="2686,3266 2772,3266 2729,3352" fill="#0a7f6f" fill-opacity="0.007"/>
<polygon points="2772,3266 2815,3352 2729,3352" fill="#0a7f6f" fill-opacity="0.057"/>
<polygon points="2772,3266 2858,3266 2815,3352" fill="#0a7f6f" fill-opacity="0.008"/>
<polygon points="2858,3266 2901,3352 2815,3352" fill="#0a7f6f" fill-opacity="0.006"/>
<polygon points="2858,3266 2944,3266 2901,3352" fill="#fff" fill-opacity="0.041"/>
<polygon points="2944,3266 2987,3352 2901,3352" fill="#0a7f6f" fill-opacity="0.050"/>
</g>
<rect x="2378.7" y="2814.4" width="273.3" height="86" fill="#231f20"/>
<rect x="2220" y="2898.7" width="588.7" height="110" fill="#231f20"/>
<path d="M2237.7 2614.8 A411 411 0 0 0 2232.2 3220.1" fill="none" stroke="#231f20" stroke-width="6.2" stroke-linecap="round" stroke-dasharray="0 15.120"/>
<path d="M2788.3 2614.8 A411 411 0 0 1 2793.8 3220.1" fill="none" stroke="#231f20" stroke-width="6.2" stroke-linecap="round" stroke-dasharray="0 15.120"/>
<path d="M2214.5 2600.3 H2252.5 V2638.3" fill="none" stroke="#231f20" stroke-width="3.6" stroke-linejoin="miter"/>
<path d="M2811.5 2600.3 H2773.5 V2638.3" fill="none" stroke="#231f20" stroke-width="3.6" stroke-linejoin="miter"/>
<path d="M2206.8 3230.3 H2244.8 V3192.3" fill="none" stroke="#231f20" stroke-width="3.6" stroke-linejoin="miter"/>
<path d="M2819.2 3230.3 H2781.2 V3192.3" fill="none" stroke="#231f20" stroke-width="3.6" stroke-linejoin="miter"/>
<text x="50.8" y="80.8" font-size="39.5" font-weight="400" fill="#75787b" textLength="156.2" lengthAdjust="spacingAndGlyphs">FIGURE 1</text>
<text transform="translate(47.6 230.5) scale(0.7993 1)" font-size="138.5" font-weight="700" fill="#343642" stroke="#343642" stroke-width="2.6" stroke-linejoin="round">Digital transformation network</text>
<text x="49" y="504" font-size="104" font-weight="700" fill="#343642" textLength="881" lengthAdjust="spacing">TECHNOLOGIES</text>
<text x="4529.9" y="505.5" font-size="104" font-weight="700" fill="#343642" textLength="445.2" lengthAdjust="spacing">TRENDS</text>
<text x="2194.8" y="2299.4" font-size="104" font-weight="700" fill="#343642" textLength="628.1" lengthAdjust="spacing">CATALYSTS</text>
<text x="4160" y="645.7" font-size="39" font-weight="400" fill="#231f20" textLength="811" lengthAdjust="spacing">By bringing together the right technologies and</text>
<text x="4195" y="702.9" font-size="39" font-weight="400" fill="#231f20" textLength="776" lengthAdjust="spacing">catalysts, organizations can harness business</text>
<rect x="4417" y="755" width="184" height="8" fill="#7fc241"/>
<text x="4215" y="760" font-size="39" fill="#231f20" textLength="756" lengthAdjust="spacing">trends that <tspan font-weight="700">transform</tspan> how work gets done.</text>
<rect x="4223" y="803" width="744" height="5.5" fill="#d2d3d5"/>
<circle cx="67.4" cy="630.3" r="15" fill="#16387f"/>
<text x="105.7" y="645.7" font-size="37" font-weight="700" fill="#231f20" textLength="202.5" lengthAdjust="spacing">Experience</text>
<circle cx="67.4" cy="691.4" r="15" fill="#33b44a"/>
<text x="105.7" y="706.8" font-size="37" font-weight="700" fill="#231f20" textLength="169.3" lengthAdjust="spacing">Analytics</text>
<circle cx="67.4" cy="752.6" r="15" fill="#0097a9"/>
<text x="105.7" y="768" font-size="37" font-weight="700" fill="#231f20" textLength="105.5" lengthAdjust="spacing">Cloud</text>
<rect x="384.5" y="616.5" width="27" height="27" fill="#b1b5b6"/>
<text x="437.1" y="645.4" font-size="37" font-weight="700" fill="#231f20" textLength="423" lengthAdjust="spacing">Business of technology</text>
<circle cx="386" cy="679" r="1.9" fill="#9a9c9e"/>
<circle cx="386" cy="687.2" r="1.9" fill="#9a9c9e"/>
<circle cx="386" cy="695.4" r="1.9" fill="#9a9c9e"/>
<circle cx="386" cy="703.6" r="1.9" fill="#9a9c9e"/>
<circle cx="394.2" cy="679" r="1.9" fill="#9a9c9e"/>
<circle cx="394.2" cy="687.2" r="1.9" fill="#9a9c9e"/>
<circle cx="394.2" cy="695.4" r="1.9" fill="#9a9c9e"/>
<circle cx="394.2" cy="703.6" r="1.9" fill="#9a9c9e"/>
<circle cx="402.4" cy="679" r="1.9" fill="#9a9c9e"/>
<circle cx="402.4" cy="687.2" r="1.9" fill="#9a9c9e"/>
<circle cx="402.4" cy="695.4" r="1.9" fill="#9a9c9e"/>
<circle cx="402.4" cy="703.6" r="1.9" fill="#9a9c9e"/>
<circle cx="410.6" cy="679" r="1.9" fill="#9a9c9e"/>
<circle cx="410.6" cy="687.2" r="1.9" fill="#9a9c9e"/>
<circle cx="410.6" cy="695.4" r="1.9" fill="#9a9c9e"/>
<circle cx="410.6" cy="703.6" r="1.9" fill="#9a9c9e"/>
<text x="437.1" y="706.8" font-size="37" font-weight="700" fill="#231f20" textLength="77.1" lengthAdjust="spacing">Risk</text>
<rect x="384.5" y="738.8" width="27" height="27" fill="#343642"/>
<text x="437.1" y="767.7" font-size="37" font-weight="700" fill="#231f20" textLength="85.1" lengthAdjust="spacing">Core</text>
<polygon points="934.9,612.2 952.4,629.7 934.9,647.2 917.4,629.7" fill="#7cc4ec"/>
<text x="973.1" y="645.1" font-size="37" font-weight="700" fill="#231f20" textLength="250.9" lengthAdjust="spacing">Digital reality</text>
<polygon points="934.9,673.4 952.4,690.9 934.9,708.4 917.4,690.9" fill="#7fc241"/>
<text x="973.1" y="706.3" font-size="37" font-weight="700" fill="#231f20" textLength="173.3" lengthAdjust="spacing">Cognitive</text>
<polygon points="934.9,734.5 952.4,752 934.9,769.5 917.4,752" fill="#00a9bd"/>
<text x="973.1" y="767.4" font-size="37" font-weight="700" fill="#231f20" textLength="202.4" lengthAdjust="spacing">Blockchain</text>
<rect x="342.9" y="616" width="4.6" height="155.4" fill="#d2d3d5" transform="translate(-2.3 0)"/>
<rect x="884" y="616" width="4.6" height="155.4" fill="#d2d3d5" transform="translate(-2.3 0)"/>
<rect x="50.3" y="803.4" width="1170" height="4.8" fill="#d2d3d5"/>
<polygon points="67.4,840.8 84.9,858.3 67.4,875.8 49.9,858.3" fill="#f9cb05"/>
<text x="105.7" y="873.7" font-size="37" font-weight="700" fill="#231f20" textLength="566.4" lengthAdjust="spacing">Science &amp; applied technologies</text>
<g font-size="37" font-weight="700" fill="#231f20">
<polygon points="2010.3,754.1 2041.9,785.7 2010.3,817.3 1978.7,785.7" fill="#7cc4ec"/>
<text x="2066.5" y="798.9" textLength="194.1" lengthAdjust="spacing">Wearables</text>
<polygon points="2084,874.7 2115.6,906.3 2084,937.9 2052.4,906.3" fill="#7cc4ec"/>
<text x="2140.2" y="919.5" textLength="167.1" lengthAdjust="spacing">Chatbots</text>
<circle cx="1558.3" cy="952.6" r="26.7" fill="#33b44a"/>
<text x="1614.5" y="949.2" textLength="303.9" lengthAdjust="spacing">Semantic search</text>
<text x="1614.5" y="991.5" textLength="186.8" lengthAdjust="spacing">&amp; analysis</text>
<polygon points="1465.7,1062.7 1497.3,1094.3 1465.7,1125.9 1434.1,1094.3" fill="#7cc4ec"/>
<text x="1521.9" y="1090.9" textLength="356.8" lengthAdjust="spacing">Personal assistants</text>
<text x="1521.9" y="1133.2" textLength="294" lengthAdjust="spacing">&amp; virtual agents</text>
<polygon points="2066.3,1019.3 2097.9,1050.9 2066.3,1082.5 2034.7,1050.9" fill="#7fc241"/>
<text x="2122.5" y="1047.5" textLength="173.3" lengthAdjust="spacing">Cognitive</text>
<text x="2122.5" y="1089.8" textLength="126.6" lengthAdjust="spacing">insight</text>
<polygon points="1970.3,1177 2001.9,1208.6 1970.3,1240.2 1938.7,1208.6" fill="#7fc241"/>
<text x="2026.5" y="1205.2" textLength="290.4" lengthAdjust="spacing">Robotic process</text>
<text x="2026.5" y="1247.5" textLength="218.9" lengthAdjust="spacing">automation</text>
<rect x="1141.4" y="1176.3" width="48.4" height="48.4" fill="#b1b5b6"/>
<text x="1221.8" y="1197.1" textLength="120.6" lengthAdjust="spacing">Digital</text>
<text x="1221.8" y="1239.4" textLength="175.8" lengthAdjust="spacing">identities</text>
<circle cx="1487.4" cy="1317.4" r="26.7" fill="#33b44a"/>
<text x="1543.6" y="1314" textLength="332.7" lengthAdjust="spacing">Data visualization</text>
<text x="1543.6" y="1356.3" textLength="211.7" lengthAdjust="spacing">&amp; reporting</text>
<polygon points="991,1329 1022.6,1360.6 991,1392.2 959.4,1360.6" fill="#7cc4ec"/>
<text x="1047.2" y="1357.2" textLength="180.3" lengthAdjust="spacingAndGlyphs">Sensors &amp;</text>
<text x="1047.2" y="1399.5" textLength="337" lengthAdjust="spacing">intelligent devices</text>
<polygon points="2062.9,1346.7 2094.5,1378.3 2062.9,1409.9 2031.3,1378.3" fill="#7fc241"/>
<text x="2119.1" y="1374.9" textLength="173.3" lengthAdjust="spacing">Cognitive</text>
<text x="2119.1" y="1417.2" textLength="200.6" lengthAdjust="spacing">algorithms</text>
<circle cx="1619.4" cy="1489.8" r="26.7" fill="#33b44a"/>
<text x="1675.6" y="1486.4" textLength="113.7" lengthAdjust="spacing">Graph</text>
<text x="1675.6" y="1528.7" textLength="170.2" lengthAdjust="spacing">database</text>
<circle cx="1245.6" cy="1522.1" r="26.7" fill="#33b44a"/>
<text x="1301.8" y="1518.7" textLength="177.4" lengthAdjust="spacing">Real-time</text>
<text x="1301.8" y="1561" textLength="190.4" lengthAdjust="spacing">prediction</text>
<polygon points="2054.9,1503.8 2086.5,1535.4 2054.9,1567 2023.3,1535.4" fill="#7cc4ec"/>
<text x="2111.1" y="1532" textLength="126.2" lengthAdjust="spacing">Virtual</text>
<text x="2111.1" y="1574.3" textLength="120.7" lengthAdjust="spacing">reality</text>
<circle cx="812.7" cy="1557" r="26.7" fill="#0097a9"/>
<text x="868.9" y="1553.6" textLength="61" lengthAdjust="spacingAndGlyphs">API</text>
<text x="868.9" y="1595.9" textLength="246.7" lengthAdjust="spacing">management</text>
<polygon points="1608.6,1630.7 1640.2,1662.3 1608.6,1693.9 1577,1662.3" fill="#7cc4ec"/>
<text x="1664.8" y="1658.9" textLength="214.6" lengthAdjust="spacing">Augmented</text>
<text x="1664.8" y="1701.2" textLength="120.7" lengthAdjust="spacing">reality</text>
<rect x="1073.4" y="1658.6" width="48.4" height="48.4" fill="#343642"/>
<text x="1153.8" y="1696" textLength="253.6" lengthAdjust="spacing">Microservices</text>
<rect x="645.2" y="1766.9" width="48.4" height="48.4" fill="#343642"/>
<text x="725.6" y="1787.7" textLength="191.5" lengthAdjust="spacing">Enterprise</text>
<text x="725.6" y="1830" textLength="208.2" lengthAdjust="spacing">integration</text>
<rect x="1129.5" y="1797.5" width="48.4" height="48.4" fill="#343642"/>
<text x="1209.9" y="1818.3" textLength="305.6" lengthAdjust="spacing">Automated code</text>
<text x="1209.9" y="1860.6" textLength="206.6" lengthAdjust="spacing">refactoring</text>
<circle cx="571.4" cy="1968" r="26.7" fill="#0097a9"/>
<text x="627.6" y="1964.6" textLength="188.6" lengthAdjust="spacing">Serverless</text>
<text x="627.6" y="2006.9" textLength="198.6" lengthAdjust="spacing">computing</text>
<rect x="1038.1" y="1960.7" width="48.4" height="48.4" fill="#b1b5b6"/>
<text x="1118.5" y="1981.5" textLength="296.9" lengthAdjust="spacing">DevOps, NoOps,</text>
<text x="1118.5" y="2023.8" textLength="255.3" lengthAdjust="spacing">&amp; autonomics</text>
<rect x="518.9" y="2112.1" width="48.4" height="48.4" fill="#343642"/>
<text x="599.3" y="2132.9" textLength="85.1" lengthAdjust="spacing">Core</text>
<text x="599.3" y="2175.2" textLength="216.1" lengthAdjust="spacing">reinvention</text>
<rect x="945.2" y="2121.2" width="48.4" height="48.4" fill="#343642"/>
<text x="1025.6" y="2142" textLength="152.4" lengthAdjust="spacing">Systems</text>
<text x="1025.6" y="2184.3" textLength="219.7" lengthAdjust="spacing">engineering</text>
<circle cx="452.6" cy="2304" r="26.7" fill="#33b44a"/>
<text x="508.8" y="2300.6" textLength="255.5" lengthAdjust="spacing">Dynamic data</text>
<text x="508.8" y="2342.9" textLength="180.2" lengthAdjust="spacing">backbone</text>
<circle cx="902.3" cy="2322.3" r="26.7" fill="#16387f"/>
<text x="958.5" y="2318.9" textLength="181" lengthAdjust="spacing">Advanced</text>
<text x="958.5" y="2361.2" textLength="82.9" lengthAdjust="spacingAndGlyphs">CRM</text>
<rect x="435.5" y="2442.9" width="48.4" height="48.4" fill="#343642"/>
<text x="515.9" y="2463.7" textLength="168.3" lengthAdjust="spacing">Next-gen</text>
<text x="515.9" y="2506" textLength="68.4" lengthAdjust="spacingAndGlyphs">ERP</text>
<circle cx="889.7" cy="2509.1" r="26.7" fill="#16387f"/>
<text x="945.9" y="2522.3" textLength="125.7" lengthAdjust="spacing">Mobile</text>
<circle cx="381.1" cy="2632.6" r="26.7" fill="#0097a9"/>
<text x="437.3" y="2629.2" textLength="276.5" lengthAdjust="spacing">Private, public,</text>
<text x="437.3" y="2671.5" textLength="268.2" lengthAdjust="spacing">&amp; hybrid cloud</text>
<circle cx="851.4" cy="2677.7" r="26.7" fill="#0097a9"/>
<text x="907.6" y="2674.3" textLength="105.5" lengthAdjust="spacing">Cloud</text>
<text x="907.6" y="2716.6" textLength="148.8" lengthAdjust="spacing">security</text>
<circle cx="315.4" cy="2786.9" r="26.7" fill="#16387f"/>
<text x="371.6" y="2783.5" textLength="347" lengthAdjust="spacing">Social &amp; marketing</text>
<text x="371.6" y="2825.8" textLength="218.9" lengthAdjust="spacing">automation</text>
<circle cx="865.7" cy="2846.3" r="26.7" fill="#0097a9"/>
<text x="921.9" y="2859.5" textLength="89.7" lengthAdjust="spacingAndGlyphs">XaaS</text>
<circle cx="352.6" cy="2945.7" r="26.7" fill="#16387f"/>
<text x="408.8" y="2942.3" textLength="264.6" lengthAdjust="spacing">Digital asset &amp;</text>
<text x="408.8" y="2984.6" textLength="400.8" lengthAdjust="spacing">content management</text>
<rect x="502.9" y="3066.4" width="48.4" height="48.4" fill="#343642"/>
<text x="583.3" y="3087.2" textLength="370.6" lengthAdjust="spacing">Next-gen enterprise</text>
<text x="583.3" y="3129.5" textLength="204.6" lengthAdjust="spacing">technology</text>
<rect x="2709.5" y="742.9" width="48.4" height="48.4" fill="#b1b5b6"/>
<text x="2789.9" y="780.3" textLength="202.7" lengthAdjust="spacingAndGlyphs">DevSecOps</text>
<polygon points="3117.1,835.3 3148.7,866.9 3117.1,898.5 3085.5,866.9" fill="#7fc241"/>
<text x="3173.3" y="863.5" textLength="185.3" lengthAdjust="spacing">Computer</text>
<text x="3173.3" y="905.8" textLength="109.2" lengthAdjust="spacing">vision</text>
<polygon points="2745.7,882.7 2777.3,914.3 2745.7,945.9 2714.1,914.3" fill="#7fc241"/>
<text x="2801.9" y="910.9" textLength="173.3" lengthAdjust="spacing">Cognitive</text>
<text x="2801.9" y="953.2" textLength="218.9" lengthAdjust="spacing">automation</text>
<polygon points="3317.1,969 3348.7,1000.6 3317.1,1032.2 3285.5,1000.6" fill="#00a9bd"/>
<text x="3373.3" y="997.2" textLength="202.4" lengthAdjust="spacing">Blockchain</text>
<text x="3373.3" y="1039.5" textLength="194.4" lengthAdjust="spacing">exchanges</text>
<polygon points="2747.4,1033.5 2779,1065.1 2747.4,1096.7 2715.8,1065.1" fill="#7cc4ec"/>
<text x="2803.6" y="1061.7" textLength="169" lengthAdjust="spacing">Drones &amp;</text>
<text x="2803.6" y="1104" textLength="393.5" lengthAdjust="spacing">autonomous vehicles</text>
<polygon points="3354.3,1129 3385.9,1160.6 3354.3,1192.2 3322.7,1160.6" fill="#7fc241"/>
<text x="3410.5" y="1157.2" textLength="158" lengthAdjust="spacing">Machine</text>
<text x="3410.5" y="1199.5" textLength="153.1" lengthAdjust="spacing">learning</text>
<polygon points="2786.9,1178.7 2818.5,1210.3 2786.9,1241.9 2755.3,1210.3" fill="#7fc241"/>
<text x="2843.1" y="1223.5" textLength="256.8" lengthAdjust="spacing">OCR/ICR/HWR</text>
<polygon points="3262.3,1269.5 3293.9,1301.1 3262.3,1332.7 3230.7,1301.1" fill="#7fc241"/>
<text x="3318.5" y="1297.7" textLength="94.5" lengthAdjust="spacing">Deep</text>
<text x="3318.5" y="1340" textLength="153.1" lengthAdjust="spacing">learning</text>
<polygon points="2753.7,1322.1 2785.3,1353.7 2753.7,1385.3 2722.1,1353.7" fill="#7fc241"/>
<text x="2809.9" y="1350.3" textLength="321.1" lengthAdjust="spacing">Natural language</text>
<text x="2809.9" y="1392.6" textLength="197.3" lengthAdjust="spacingAndGlyphs">processing</text>
<polygon points="3224.6,1424.4 3256.2,1456 3224.6,1487.6 3193,1456" fill="#7fc241"/>
<text x="3280.8" y="1452.6" textLength="126.7" lengthAdjust="spacing">Neural</text>
<text x="3280.8" y="1494.9" textLength="175" lengthAdjust="spacing">networks</text>
<polygon points="2734.9,1478.7 2766.5,1510.3 2734.9,1541.9 2703.3,1510.3" fill="#7fc241"/>
<text x="2791.1" y="1506.9" textLength="321.1" lengthAdjust="spacing">Natural language</text>
<text x="2791.1" y="1549.2" textLength="202.7" lengthAdjust="spacing">generation</text>
<polygon points="3123.4,1583.8 3155,1615.4 3123.4,1647 3091.8,1615.4" fill="#7cc4ec"/>
<text x="3179.6" y="1612" textLength="112.8" lengthAdjust="spacing">Mixed</text>
<text x="3179.6" y="1654.3" textLength="120.7" lengthAdjust="spacing">reality</text>
<rect x="3735.2" y="1251.2" width="48.4" height="48.4" fill="#343642"/>
<text x="3815.6" y="1272" textLength="86.9" lengthAdjust="spacingAndGlyphs">Edge</text>
<text x="3815.6" y="1314.3" textLength="198.6" lengthAdjust="spacing">computing</text>
<rect x="3679" y="1406.4" width="48.4" height="48.4" fill="#343642"/>
<text x="3759.4" y="1427.2" textLength="365.5" lengthAdjust="spacing">Advanced networks</text>
<text x="3759.4" y="1469.5" textLength="295.8" lengthAdjust="spacing">(macro &amp; micro)</text>
<polygon points="3736.4,1557.1 3768,1588.7 3736.4,1620.3 3704.8,1588.7" fill="#7cc4ec"/>
<text x="3792.6" y="1585.3" textLength="236.5" lengthAdjust="spacing">Behavioral &amp;</text>
<text x="3792.6" y="1627.6" textLength="410.6" lengthAdjust="spacing">emotional recognition</text>
<polygon points="3485.3,1689.1 3516.9,1720.7 3485.3,1752.3 3453.7,1720.7" fill="#7cc4ec"/>
<text x="3541.5" y="1733.9" textLength="198.9" lengthAdjust="spacing">Biometrics</text>
<polygon points="3919.4,1707.4 3951,1739 3919.4,1770.6 3887.8,1739" fill="#7cc4ec"/>
<text x="3975.6" y="1735.6" textLength="149.1" lengthAdjust="spacing">Content</text>
<text x="3975.6" y="1777.9" textLength="405.9" lengthAdjust="spacing">micro-personalization</text>
<polygon points="3547,1830.9 3578.6,1862.5 3547,1894.1 3515.4,1862.5" fill="#7cc4ec"/>
<text x="3603.2" y="1859.1" textLength="165.3" lengthAdjust="spacing">Affective</text>
<text x="3603.2" y="1901.4" textLength="198.6" lengthAdjust="spacing">computing</text>
<polygon points="3930.2,1856.8 3961.8,1888.4 3930.2,1920 3898.6,1888.4" fill="#7cc4ec"/>
<text x="3986.4" y="1885" textLength="476" lengthAdjust="spacing">Intelligent conversational</text>
<text x="3986.4" y="1927.3" textLength="186.3" lengthAdjust="spacing">interfaces</text>
<polygon points="3721.1,1991.8 3752.7,2023.4 3721.1,2055 3689.5,2023.4" fill="#00a9bd"/>
<text x="3777.3" y="2020" textLength="202.4" lengthAdjust="spacing">Blockchain</text>
<text x="3777.3" y="2062.3" textLength="132.6" lengthAdjust="spacing">oracles</text>
<polygon points="4130.9,2022.1 4162.5,2053.7 4130.9,2085.3 4099.3,2053.7" fill="#f9cb05"/>
<text x="4187.1" y="2050.3" textLength="328.7" lengthAdjust="spacing">Next-gen additive</text>
<text x="4187.1" y="2092.6" textLength="276.7" lengthAdjust="spacing">manufacturing</text>
<polygon points="3842.3,2161 3873.9,2192.6 3842.3,2224.2 3810.7,2192.6" fill="#f9cb05"/>
<text x="3898.5" y="2189.2" textLength="150.9" lengthAdjust="spacing">Physical</text>
<text x="3898.5" y="2231.5" textLength="150.8" lengthAdjust="spacing">robotics</text>
<polygon points="4212,2170.7 4243.6,2202.3 4212,2233.9 4180.4,2202.3" fill="#00a9bd"/>
<text x="4268.2" y="2198.9" textLength="111.8" lengthAdjust="spacing">Smart</text>
<text x="4268.2" y="2241.2" textLength="174.9" lengthAdjust="spacing">contracts</text>
<polygon points="3884,2313.5 3915.6,2345.1 3884,2376.7 3852.4,2345.1" fill="#7fc241"/>
<text x="3940.2" y="2358.3" textLength="213" lengthAdjust="spacing">Symbolic AI</text>
<polygon points="4420,2393 4451.6,2424.6 4420,2456.2 4388.4,2424.6" fill="#f9cb05"/>
<text x="4476.2" y="2437.8" textLength="180.9" lengthAdjust="spacing">Nanotech</text>
<polygon points="4142.3,2547.8 4173.9,2579.4 4142.3,2611 4110.7,2579.4" fill="#7fc241"/>
<text x="4198.5" y="2576" textLength="308.2" lengthAdjust="spacing">Artificial general</text>
<text x="4198.5" y="2618.3" textLength="215.4" lengthAdjust="spacing">intelligence</text>
<polygon points="4449.1,2669 4480.7,2700.6 4449.1,2732.2 4417.5,2700.6" fill="#f9cb05"/>
<text x="4505.3" y="2697.2" textLength="177.1" lengthAdjust="spacing">Quantum</text>
<text x="4505.3" y="2739.5" textLength="198.6" lengthAdjust="spacing">computing</text>
<polygon points="4010.3,2723.8 4041.9,2755.4 4010.3,2787 3978.7,2755.4" fill="#f9cb05"/>
<text x="4066.5" y="2768.6" textLength="251.7" lengthAdjust="spacing">Neuroscience</text>
<polygon points="4337.1,2859.3 4368.7,2890.9 4337.1,2922.5 4305.5,2890.9" fill="#f9cb05"/>
<text x="4393.3" y="2887.5" textLength="240" lengthAdjust="spacing">Environment</text>
<text x="4393.3" y="2929.8" textLength="324.2" lengthAdjust="spacing">&amp; energy systems</text>
<polygon points="4035.4,2934.1 4067,2965.7 4035.4,2997.3 4003.8,2965.7" fill="#f9cb05"/>
<text x="4091.6" y="2962.3" textLength="107" lengthAdjust="spacingAndGlyphs">Space</text>
<text x="4091.6" y="3004.6" textLength="204.6" lengthAdjust="spacing">technology</text>
<polygon points="4352.6,3050.1 4384.2,3081.7 4352.6,3113.3 4321,3081.7" fill="#f9cb05"/>
<text x="4408.8" y="3078.3" textLength="301.1" lengthAdjust="spacing">Biotechnology &amp;</text>
<text x="4408.8" y="3120.6" textLength="270.7" lengthAdjust="spacing">bioinformatics</text>
</g>
<text transform="translate(512.1 1728.6) rotate(-59.01) scale(0.7673 1)" font-size="58" font-weight="700" fill="#343642" stroke="#343642" stroke-width="0.9" stroke-linejoin="round" text-anchor="middle">C</text>
<text transform="translate(530.4 1698.6) rotate(-58.14) scale(0.7673 1)" font-size="58" font-weight="700" fill="#343642" stroke="#343642" stroke-width="0.9" stroke-linejoin="round" text-anchor="middle">U</text>
<text transform="translate(549.2 1668.9) rotate(-57.28) scale(0.7673 1)" font-size="58" font-weight="700" fill="#343642" stroke="#343642" stroke-width="0.9" stroke-linejoin="round" text-anchor="middle">R</text>
<text transform="translate(568.4 1639.5) rotate(-56.42) scale(0.7673 1)" font-size="58" font-weight="700" fill="#343642" stroke="#343642" stroke-width="0.9" stroke-linejoin="round" text-anchor="middle">R</text>
<text transform="translate(587.4 1611.4) rotate(-55.58) scale(0.7673 1)" font-size="58" font-weight="700" fill="#343642" stroke="#343642" stroke-width="0.9" stroke-linejoin="round" text-anchor="middle">E</text>
<text transform="translate(606.8 1583.5) rotate(-54.75) scale(0.7673 1)" font-size="58" font-weight="700" fill="#343642" stroke="#343642" stroke-width="0.9" stroke-linejoin="round" text-anchor="middle">N</text>
<text transform="translate(625.8 1557) rotate(-53.95) scale(0.7673 1)" font-size="58" font-weight="700" fill="#343642" stroke="#343642" stroke-width="0.9" stroke-linejoin="round" text-anchor="middle">T</text>
<text transform="translate(656 1516.5) rotate(-52.71) scale(0.7673 1)" font-size="58" font-weight="700" fill="#343642" stroke="#343642" stroke-width="0.9" stroke-linejoin="round" text-anchor="middle">M</text>
<text transform="translate(679 1486.8) rotate(-51.78) scale(0.7673 1)" font-size="58" font-weight="700" fill="#343642" stroke="#343642" stroke-width="0.9" stroke-linejoin="round" text-anchor="middle">A</text>
<text transform="translate(700.9 1459.3) rotate(-50.92) scale(0.7673 1)" font-size="58" font-weight="700" fill="#343642" stroke="#343642" stroke-width="0.9" stroke-linejoin="round" text-anchor="middle">R</text>
<text transform="translate(723.3 1432.2) rotate(-50.06) scale(0.7673 1)" font-size="58" font-weight="700" fill="#343642" stroke="#343642" stroke-width="0.9" stroke-linejoin="round" text-anchor="middle">K</text>
<text transform="translate(745.2 1406.4) rotate(-49.23) scale(0.7673 1)" font-size="58" font-weight="700" fill="#343642" stroke="#343642" stroke-width="0.9" stroke-linejoin="round" text-anchor="middle">E</text>
<text transform="translate(765.9 1382.7) rotate(-48.45) scale(0.7673 1)" font-size="58" font-weight="700" fill="#343642" stroke="#343642" stroke-width="0.9" stroke-linejoin="round" text-anchor="middle">T</text>
<text transform="translate(781.9 1364.8) rotate(-47.86) scale(0.7673 1)" font-size="58" font-weight="700" fill="#343642" stroke="#343642" stroke-width="0.9" stroke-linejoin="round" text-anchor="middle">:</text>
<text transform="translate(808.2 1336.3) rotate(-46.91) scale(0.7673 1)" font-size="58" font-weight="700" fill="#343642" stroke="#343642" stroke-width="0.9" stroke-linejoin="round" text-anchor="middle">&lt;</text>
<text transform="translate(827.7 1315.7) rotate(-46.22) scale(0.7673 1)" font-size="58" font-weight="700" fill="#343642" stroke="#343642" stroke-width="0.9" stroke-linejoin="round" text-anchor="middle">2</text>
<text transform="translate(859.6 1283.1) rotate(-45.10) scale(0.7673 1)" font-size="58" font-weight="700" fill="#343642" stroke="#343642" stroke-width="0.9" stroke-linejoin="round" text-anchor="middle">Y</text>
<text transform="translate(882.8 1260.1) rotate(-44.29) scale(0.7673 1)" font-size="58" font-weight="700" fill="#343642" stroke="#343642" stroke-width="0.9" stroke-linejoin="round" text-anchor="middle">E</text>
<text transform="translate(907.2 1236.6) rotate(-43.46) scale(0.7673 1)" font-size="58" font-weight="700" fill="#343642" stroke="#343642" stroke-width="0.9" stroke-linejoin="round" text-anchor="middle">A</text>
<text transform="translate(932.9 1212.6) rotate(-42.60) scale(0.7673 1)" font-size="58" font-weight="700" fill="#343642" stroke="#343642" stroke-width="0.9" stroke-linejoin="round" text-anchor="middle">R</text>
<text transform="translate(958.1 1189.8) rotate(-41.76) scale(0.7673 1)" font-size="58" font-weight="700" fill="#343642" stroke="#343642" stroke-width="0.9" stroke-linejoin="round" text-anchor="middle">S</text>
<text transform="translate(4121.3 1240.9) rotate(43.61) skewX(-9) scale(0.8023 1)" font-size="58" font-weight="700" fill="#343642" stroke="#343642" stroke-width="0.9" stroke-linejoin="round" text-anchor="middle">N</text>
<text transform="translate(4146.6 1265.4) rotate(44.48) skewX(-9) scale(0.8023 1)" font-size="58" font-weight="700" fill="#343642" stroke="#343642" stroke-width="0.9" stroke-linejoin="round" text-anchor="middle">E</text>
<text transform="translate(4170.8 1289.4) rotate(45.32) skewX(-9) scale(0.8023 1)" font-size="58" font-weight="700" fill="#343642" stroke="#343642" stroke-width="0.9" stroke-linejoin="round" text-anchor="middle">X</text>
<text transform="translate(4193.6 1312.9) rotate(46.12) skewX(-9) scale(0.8023 1)" font-size="58" font-weight="700" fill="#343642" stroke="#343642" stroke-width="0.9" stroke-linejoin="round" text-anchor="middle">T</text>
<text transform="translate(4227.8 1349.2) rotate(47.35) skewX(-9) scale(0.8023 1)" font-size="58" font-weight="700" fill="#343642" stroke="#343642" stroke-width="0.9" stroke-linejoin="round" text-anchor="middle">H</text>
<text transform="translate(4253.3 1377.3) rotate(48.28) skewX(-9) scale(0.8023 1)" font-size="58" font-weight="700" fill="#343642" stroke="#343642" stroke-width="0.9" stroke-linejoin="round" text-anchor="middle">O</text>
<text transform="translate(4278.3 1405.8) rotate(49.21) skewX(-9) scale(0.8023 1)" font-size="58" font-weight="700" fill="#343642" stroke="#343642" stroke-width="0.9" stroke-linejoin="round" text-anchor="middle">R</text>
<text transform="translate(4295.3 1425.8) rotate(49.85) skewX(-9) scale(0.8023 1)" font-size="58" font-weight="700" fill="#343642" stroke="#343642" stroke-width="0.9" stroke-linejoin="round" text-anchor="middle">I</text>
<text transform="translate(4310.5 1444) rotate(50.43) skewX(-9) scale(0.8023 1)" font-size="58" font-weight="700" fill="#343642" stroke="#343642" stroke-width="0.9" stroke-linejoin="round" text-anchor="middle">Z</text>
<text transform="translate(4332.8 1471.4) rotate(51.30) skewX(-9) scale(0.8023 1)" font-size="58" font-weight="700" fill="#343642" stroke="#343642" stroke-width="0.9" stroke-linejoin="round" text-anchor="middle">O</text>
<text transform="translate(4356.2 1501.1) rotate(52.23) skewX(-9) scale(0.8023 1)" font-size="58" font-weight="700" fill="#343642" stroke="#343642" stroke-width="0.9" stroke-linejoin="round" text-anchor="middle">N</text>
<text transform="translate(4373 1523) rotate(52.91) skewX(-9) scale(0.8023 1)" font-size="58" font-weight="700" fill="#343642" stroke="#343642" stroke-width="0.9" stroke-linejoin="round" text-anchor="middle">:</text>
<text transform="translate(4396.6 1554.8) rotate(53.88) skewX(-9) scale(0.8023 1)" font-size="58" font-weight="700" fill="#343642" stroke="#343642" stroke-width="0.9" stroke-linejoin="round" text-anchor="middle">2</text>
<text transform="translate(4410.5 1574) rotate(54.46) skewX(-9) scale(0.8023 1)" font-size="58" font-weight="700" fill="#343642" stroke="#343642" stroke-width="0.9" stroke-linejoin="round" text-anchor="middle">-</text>
<text transform="translate(4424.1 1593.4) rotate(55.05) skewX(-9) scale(0.8023 1)" font-size="58" font-weight="700" fill="#343642" stroke="#343642" stroke-width="0.9" stroke-linejoin="round" text-anchor="middle">5</text>
<text transform="translate(4450.9 1632.5) rotate(56.21) skewX(-9) scale(0.8023 1)" font-size="58" font-weight="700" fill="#343642" stroke="#343642" stroke-width="0.9" stroke-linejoin="round" text-anchor="middle">Y</text>
<text transform="translate(4469.6 1660.9) rotate(57.05) skewX(-9) scale(0.8023 1)" font-size="58" font-weight="700" fill="#343642" stroke="#343642" stroke-width="0.9" stroke-linejoin="round" text-anchor="middle">E</text>
<text transform="translate(4488.6 1690.7) rotate(57.91) skewX(-9) scale(0.8023 1)" font-size="58" font-weight="700" fill="#343642" stroke="#343642" stroke-width="0.9" stroke-linejoin="round" text-anchor="middle">A</text>
<text transform="translate(4507.8 1721.8) rotate(58.81) skewX(-9) scale(0.8023 1)" font-size="58" font-weight="700" fill="#343642" stroke="#343642" stroke-width="0.9" stroke-linejoin="round" text-anchor="middle">R</text>
<text transform="translate(4525.9 1752.2) rotate(59.68) skewX(-9) scale(0.8023 1)" font-size="58" font-weight="700" fill="#343642" stroke="#343642" stroke-width="0.9" stroke-linejoin="round" text-anchor="middle">S</text>
<text transform="translate(4777.3 2372.2) rotate(76.17) scale(0.7771 1)" font-size="58" font-weight="700" fill="#343642" stroke="#343642" stroke-width="0.9" stroke-linejoin="round" text-anchor="middle">T</text>
<text transform="translate(4785 2404.4) rotate(76.98) scale(0.7771 1)" font-size="58" font-weight="700" fill="#343642" stroke="#343642" stroke-width="0.9" stroke-linejoin="round" text-anchor="middle">H</text>
<text transform="translate(4792.5 2437.9) rotate(77.82) scale(0.7771 1)" font-size="58" font-weight="700" fill="#343642" stroke="#343642" stroke-width="0.9" stroke-linejoin="round" text-anchor="middle">E</text>
<text transform="translate(4802 2484.2) rotate(78.98) scale(0.7771 1)" font-size="58" font-weight="700" fill="#343642" stroke="#343642" stroke-width="0.9" stroke-linejoin="round" text-anchor="middle">F</text>
<text transform="translate(4808.1 2516.7) rotate(79.80) scale(0.7771 1)" font-size="58" font-weight="700" fill="#343642" stroke="#343642" stroke-width="0.9" stroke-linejoin="round" text-anchor="middle">U</text>
<text transform="translate(4813.7 2549.3) rotate(80.61) scale(0.7771 1)" font-size="58" font-weight="700" fill="#343642" stroke="#343642" stroke-width="0.9" stroke-linejoin="round" text-anchor="middle">T</text>
<text transform="translate(4818.9 2581.9) rotate(81.42) scale(0.7771 1)" font-size="58" font-weight="700" fill="#343642" stroke="#343642" stroke-width="0.9" stroke-linejoin="round" text-anchor="middle">U</text>
<text transform="translate(4823.9 2617.1) rotate(82.29) scale(0.7771 1)" font-size="58" font-weight="700" fill="#343642" stroke="#343642" stroke-width="0.9" stroke-linejoin="round" text-anchor="middle">R</text>
<text transform="translate(4828.3 2651.1) rotate(83.13) scale(0.7771 1)" font-size="58" font-weight="700" fill="#343642" stroke="#343642" stroke-width="0.9" stroke-linejoin="round" text-anchor="middle">E</text>
<text transform="translate(4831.2 2676.5) rotate(83.76) scale(0.7771 1)" font-size="58" font-weight="700" fill="#343642" stroke="#343642" stroke-width="0.9" stroke-linejoin="round" text-anchor="middle">:</text>
<text transform="translate(4835.1 2715.5) rotate(84.72) scale(0.7771 1)" font-size="58" font-weight="700" fill="#343642" stroke="#343642" stroke-width="0.9" stroke-linejoin="round" text-anchor="middle">&gt;</text>
<text transform="translate(4837.6 2744.1) rotate(85.43) scale(0.7771 1)" font-size="58" font-weight="700" fill="#343642" stroke="#343642" stroke-width="0.9" stroke-linejoin="round" text-anchor="middle">5</text>
<text transform="translate(4840.8 2790) rotate(86.56) scale(0.7771 1)" font-size="58" font-weight="700" fill="#343642" stroke="#343642" stroke-width="0.9" stroke-linejoin="round" text-anchor="middle">Y</text>
<text transform="translate(4842.5 2823.1) rotate(87.37) scale(0.7771 1)" font-size="58" font-weight="700" fill="#343642" stroke="#343642" stroke-width="0.9" stroke-linejoin="round" text-anchor="middle">E</text>
<text transform="translate(4843.9 2857.3) rotate(88.22) scale(0.7771 1)" font-size="58" font-weight="700" fill="#343642" stroke="#343642" stroke-width="0.9" stroke-linejoin="round" text-anchor="middle">A</text>
<text transform="translate(4844.7 2892.9) rotate(89.09) scale(0.7771 1)" font-size="58" font-weight="700" fill="#343642" stroke="#343642" stroke-width="0.9" stroke-linejoin="round" text-anchor="middle">R</text>
<text transform="translate(4845 2927.2) rotate(89.93) scale(0.7771 1)" font-size="58" font-weight="700" fill="#343642" stroke="#343642" stroke-width="0.9" stroke-linejoin="round" text-anchor="middle">S</text>
<text transform="translate(2138.2 1905.9) rotate(-18.82)" font-size="36.5" font-weight="400" fill="#231f20" stroke="#231f20" stroke-width="1.6" stroke-linejoin="round" text-anchor="middle">G</text>
<text transform="translate(2169.6 1895.7) rotate(-17.18)" font-size="36.5" font-weight="400" fill="#231f20" stroke="#231f20" stroke-width="1.6" stroke-linejoin="round" text-anchor="middle">A</text>
<text transform="translate(2205 1885.4) rotate(-15.36)" font-size="36.5" font-weight="400" fill="#231f20" stroke="#231f20" stroke-width="1.6" stroke-linejoin="round" text-anchor="middle">M</text>
<text transform="translate(2238.6 1876.7) rotate(-13.65)" font-size="36.5" font-weight="400" fill="#231f20" stroke="#231f20" stroke-width="1.6" stroke-linejoin="round" text-anchor="middle">E</text>
<text transform="translate(2261.6 1871.4) rotate(-12.48)" font-size="36.5" font-weight="400" fill="#231f20" stroke="#231f20" stroke-width="1.6" stroke-linejoin="round" text-anchor="middle">-</text>
<text transform="translate(2286 1866.2) rotate(-11.24)" font-size="36.5" font-weight="400" fill="#231f20" stroke="#231f20" stroke-width="1.6" stroke-linejoin="round" text-anchor="middle">C</text>
<text transform="translate(2318.3 1860.3) rotate(-9.62)" font-size="36.5" font-weight="400" fill="#231f20" stroke="#231f20" stroke-width="1.6" stroke-linejoin="round" text-anchor="middle">H</text>
<text transform="translate(2351.7 1855.1) rotate(-7.95)" font-size="36.5" font-weight="400" fill="#231f20" stroke="#231f20" stroke-width="1.6" stroke-linejoin="round" text-anchor="middle">A</text>
<text transform="translate(2386.1 1850.9) rotate(-6.24)" font-size="36.5" font-weight="400" fill="#231f20" stroke="#231f20" stroke-width="1.6" stroke-linejoin="round" text-anchor="middle">N</text>
<text transform="translate(2421.1 1847.6) rotate(-4.50)" font-size="36.5" font-weight="400" fill="#231f20" stroke="#231f20" stroke-width="1.6" stroke-linejoin="round" text-anchor="middle">G</text>
<text transform="translate(2447.8 1845.8) rotate(-3.18)" font-size="36.5" font-weight="400" fill="#231f20" stroke="#231f20" stroke-width="1.6" stroke-linejoin="round" text-anchor="middle">I</text>
<text transform="translate(2476 1844.6) rotate(-1.78)" font-size="36.5" font-weight="400" fill="#231f20" stroke="#231f20" stroke-width="1.6" stroke-linejoin="round" text-anchor="middle">N</text>
<text transform="translate(2511.2 1844) rotate(-0.04)" font-size="36.5" font-weight="400" fill="#231f20" stroke="#231f20" stroke-width="1.6" stroke-linejoin="round" text-anchor="middle">G</text>
<text transform="translate(2559.2 1845) rotate(2.33)" font-size="36.5" font-weight="400" fill="#231f20" stroke="#231f20" stroke-width="1.6" stroke-linejoin="round" text-anchor="middle">T</text>
<text transform="translate(2587 1846.4) rotate(3.71)" font-size="36.5" font-weight="400" fill="#231f20" stroke="#231f20" stroke-width="1.6" stroke-linejoin="round" text-anchor="middle">E</text>
<text transform="translate(2616.1 1848.7) rotate(5.15)" font-size="36.5" font-weight="400" fill="#231f20" stroke="#231f20" stroke-width="1.6" stroke-linejoin="round" text-anchor="middle">C</text>
<text transform="translate(2648.7 1852.1) rotate(6.78)" font-size="36.5" font-weight="400" fill="#231f20" stroke="#231f20" stroke-width="1.6" stroke-linejoin="round" text-anchor="middle">H</text>
<text transform="translate(2684.4 1856.9) rotate(8.55)" font-size="36.5" font-weight="400" fill="#231f20" stroke="#231f20" stroke-width="1.6" stroke-linejoin="round" text-anchor="middle">N</text>
<text transform="translate(2720.4 1862.9) rotate(10.36)" font-size="36.5" font-weight="400" fill="#231f20" stroke="#231f20" stroke-width="1.6" stroke-linejoin="round" text-anchor="middle">O</text>
<text transform="translate(2751.9 1869.1) rotate(11.94)" font-size="36.5" font-weight="400" fill="#231f20" stroke="#231f20" stroke-width="1.6" stroke-linejoin="round" text-anchor="middle">L</text>
<text transform="translate(2783.2 1876.2) rotate(13.53)" font-size="36.5" font-weight="400" fill="#231f20" stroke="#231f20" stroke-width="1.6" stroke-linejoin="round" text-anchor="middle">O</text>
<text transform="translate(2817 1884.9) rotate(15.26)" font-size="36.5" font-weight="400" fill="#231f20" stroke="#231f20" stroke-width="1.6" stroke-linejoin="round" text-anchor="middle">G</text>
<text transform="translate(2842.7 1892.2) rotate(16.58)" font-size="36.5" font-weight="400" fill="#231f20" stroke="#231f20" stroke-width="1.6" stroke-linejoin="round" text-anchor="middle">I</text>
<text transform="translate(2865.4 1899.2) rotate(17.75)" font-size="36.5" font-weight="400" fill="#231f20" stroke="#231f20" stroke-width="1.6" stroke-linejoin="round" text-anchor="middle">E</text>
<text transform="translate(2891.6 1907.9) rotate(19.12)" font-size="36.5" font-weight="400" fill="#231f20" stroke="#231f20" stroke-width="1.6" stroke-linejoin="round" text-anchor="middle">S</text>
<text transform="translate(1541.3 2364.2) rotate(-56.65)" font-size="36.5" font-weight="400" fill="#231f20" stroke="#231f20" stroke-width="1.6" stroke-linejoin="round" text-anchor="middle">E</text>
<text transform="translate(1558.5 2338.8) rotate(-55.14)" font-size="36.5" font-weight="400" fill="#231f20" stroke="#231f20" stroke-width="1.6" stroke-linejoin="round" text-anchor="middle">X</text>
<text transform="translate(1577.1 2312.9) rotate(-53.57)" font-size="36.5" font-weight="400" fill="#231f20" stroke="#231f20" stroke-width="1.6" stroke-linejoin="round" text-anchor="middle">P</text>
<text transform="translate(1595.2 2289) rotate(-52.09)" font-size="36.5" font-weight="400" fill="#231f20" stroke="#231f20" stroke-width="1.6" stroke-linejoin="round" text-anchor="middle">E</text>
<text transform="translate(1614.3 2265.2) rotate(-50.58)" font-size="36.5" font-weight="400" fill="#231f20" stroke="#231f20" stroke-width="1.6" stroke-linejoin="round" text-anchor="middle">R</text>
<text transform="translate(1631.4 2244.9) rotate(-49.28)" font-size="36.5" font-weight="400" fill="#231f20" stroke="#231f20" stroke-width="1.6" stroke-linejoin="round" text-anchor="middle">I</text>
<text transform="translate(1647.7 2226.3) rotate(-48.06)" font-size="36.5" font-weight="400" fill="#231f20" stroke="#231f20" stroke-width="1.6" stroke-linejoin="round" text-anchor="middle">E</text>
<text transform="translate(1670.3 2201.9) rotate(-46.42)" font-size="36.5" font-weight="400" fill="#231f20" stroke="#231f20" stroke-width="1.6" stroke-linejoin="round" text-anchor="middle">N</text>
<text transform="translate(1694.5 2177.2) rotate(-44.71)" font-size="36.5" font-weight="400" fill="#231f20" stroke="#231f20" stroke-width="1.6" stroke-linejoin="round" text-anchor="middle">C</text>
<text transform="translate(1716.2 2156.3) rotate(-43.22)" font-size="36.5" font-weight="400" fill="#231f20" stroke="#231f20" stroke-width="1.6" stroke-linejoin="round" text-anchor="middle">E</text>
<text transform="translate(1748 2127.5) rotate(-41.11)" font-size="36.5" font-weight="400" fill="#231f20" stroke="#231f20" stroke-width="1.6" stroke-linejoin="round" text-anchor="middle">I</text>
<text transform="translate(1770.2 2108.6) rotate(-39.67)" font-size="36.5" font-weight="400" fill="#231f20" stroke="#231f20" stroke-width="1.6" stroke-linejoin="round" text-anchor="middle">N</text>
<text transform="translate(1799.6 2085) rotate(-37.81)" font-size="36.5" font-weight="400" fill="#231f20" stroke="#231f20" stroke-width="1.6" stroke-linejoin="round" text-anchor="middle">N</text>
<text transform="translate(1829.6 2062.5) rotate(-35.97)" font-size="36.5" font-weight="400" fill="#231f20" stroke="#231f20" stroke-width="1.6" stroke-linejoin="round" text-anchor="middle">O</text>
<text transform="translate(1857.8 2042.6) rotate(-34.26)" font-size="36.5" font-weight="400" fill="#231f20" stroke="#231f20" stroke-width="1.6" stroke-linejoin="round" text-anchor="middle">V</text>
<text transform="translate(1885.1 2024.6) rotate(-32.65)" font-size="36.5" font-weight="400" fill="#231f20" stroke="#231f20" stroke-width="1.6" stroke-linejoin="round" text-anchor="middle">A</text>
<text transform="translate(1911.5 2008.2) rotate(-31.12)" font-size="36.5" font-weight="400" fill="#231f20" stroke="#231f20" stroke-width="1.6" stroke-linejoin="round" text-anchor="middle">T</text>
<text transform="translate(1932.8 1995.7) rotate(-29.90)" font-size="36.5" font-weight="400" fill="#231f20" stroke="#231f20" stroke-width="1.6" stroke-linejoin="round" text-anchor="middle">I</text>
<text transform="translate(1958 1981.6) rotate(-28.48)" font-size="36.5" font-weight="400" fill="#231f20" stroke="#231f20" stroke-width="1.6" stroke-linejoin="round" text-anchor="middle">O</text>
<text transform="translate(1991.2 1964.3) rotate(-26.63)" font-size="36.5" font-weight="400" fill="#231f20" stroke="#231f20" stroke-width="1.6" stroke-linejoin="round" text-anchor="middle">N</text>
<text transform="translate(3083.2 1991.1) rotate(29.45)" font-size="36.5" font-weight="400" fill="#231f20" stroke="#231f20" stroke-width="1.6" stroke-linejoin="round" text-anchor="middle">D</text>
<text transform="translate(3112.4 2008.2) rotate(31.11)" font-size="36.5" font-weight="400" fill="#231f20" stroke="#231f20" stroke-width="1.6" stroke-linejoin="round" text-anchor="middle">A</text>
<text transform="translate(3138.4 2024.3) rotate(32.62)" font-size="36.5" font-weight="400" fill="#231f20" stroke="#231f20" stroke-width="1.6" stroke-linejoin="round" text-anchor="middle">T</text>
<text transform="translate(3164 2041.2) rotate(34.13)" font-size="36.5" font-weight="400" fill="#231f20" stroke="#231f20" stroke-width="1.6" stroke-linejoin="round" text-anchor="middle">A</text>
<text transform="translate(3200.1 2066.7) rotate(36.31)" font-size="36.5" font-weight="400" fill="#231f20" stroke="#231f20" stroke-width="1.6" stroke-linejoin="round" text-anchor="middle">I</text>
<text transform="translate(3223.1 2084) rotate(37.73)" font-size="36.5" font-weight="400" fill="#231f20" stroke="#231f20" stroke-width="1.6" stroke-linejoin="round" text-anchor="middle">N</text>
<text transform="translate(3248.7 2104.4) rotate(39.35)" font-size="36.5" font-weight="400" fill="#231f20" stroke="#231f20" stroke-width="1.6" stroke-linejoin="round" text-anchor="middle">T</text>
<text transform="translate(3270.4 2122.6) rotate(40.74)" font-size="36.5" font-weight="400" fill="#231f20" stroke="#231f20" stroke-width="1.6" stroke-linejoin="round" text-anchor="middle">E</text>
<text transform="translate(3291.7 2141.4) rotate(42.14)" font-size="36.5" font-weight="400" fill="#231f20" stroke="#231f20" stroke-width="1.6" stroke-linejoin="round" text-anchor="middle">L</text>
<text transform="translate(3312.6 2160.8) rotate(43.55)" font-size="36.5" font-weight="400" fill="#231f20" stroke="#231f20" stroke-width="1.6" stroke-linejoin="round" text-anchor="middle">L</text>
<text transform="translate(3330 2177.7) rotate(44.75)" font-size="36.5" font-weight="400" fill="#231f20" stroke="#231f20" stroke-width="1.6" stroke-linejoin="round" text-anchor="middle">I</text>
<text transform="translate(3349.1 2197.1) rotate(46.09)" font-size="36.5" font-weight="400" fill="#231f20" stroke="#231f20" stroke-width="1.6" stroke-linejoin="round" text-anchor="middle">G</text>
<text transform="translate(3370.5 2219.9) rotate(47.63)" font-size="36.5" font-weight="400" fill="#231f20" stroke="#231f20" stroke-width="1.6" stroke-linejoin="round" text-anchor="middle">E</text>
<text transform="translate(3392.2 2244.4) rotate(49.24)" font-size="36.5" font-weight="400" fill="#231f20" stroke="#231f20" stroke-width="1.6" stroke-linejoin="round" text-anchor="middle">N</text>
<text transform="translate(3414.1 2270.6) rotate(50.93)" font-size="36.5" font-weight="400" fill="#231f20" stroke="#231f20" stroke-width="1.6" stroke-linejoin="round" text-anchor="middle">C</text>
<text transform="translate(3432.5 2293.9) rotate(52.39)" font-size="36.5" font-weight="400" fill="#231f20" stroke="#231f20" stroke-width="1.6" stroke-linejoin="round" text-anchor="middle">E</text>
<text transform="translate(1352.3 2947.8) rotate(-87.28)" font-size="36.5" font-weight="400" fill="#231f20" stroke="#231f20" stroke-width="1.6" stroke-linejoin="round" text-anchor="middle">A</text>
<text transform="translate(1354.5 2913) rotate(-85.55)" font-size="36.5" font-weight="400" fill="#231f20" stroke="#231f20" stroke-width="1.6" stroke-linejoin="round" text-anchor="middle">U</text>
<text transform="translate(1357.5 2880.4) rotate(-83.94)" font-size="36.5" font-weight="400" fill="#231f20" stroke="#231f20" stroke-width="1.6" stroke-linejoin="round" text-anchor="middle">T</text>
<text transform="translate(1361.5 2847.3) rotate(-82.29)" font-size="36.5" font-weight="400" fill="#231f20" stroke="#231f20" stroke-width="1.6" stroke-linejoin="round" text-anchor="middle">O</text>
<text transform="translate(1367.6 2807.6) rotate(-80.31)" font-size="36.5" font-weight="400" fill="#231f20" stroke="#231f20" stroke-width="1.6" stroke-linejoin="round" text-anchor="middle">M</text>
<text transform="translate(1374.6 2770) rotate(-78.42)" font-size="36.5" font-weight="400" fill="#231f20" stroke="#231f20" stroke-width="1.6" stroke-linejoin="round" text-anchor="middle">A</text>
<text transform="translate(1381.4 2739.2) rotate(-76.87)" font-size="36.5" font-weight="400" fill="#231f20" stroke="#231f20" stroke-width="1.6" stroke-linejoin="round" text-anchor="middle">T</text>
<text transform="translate(1387.3 2714.8) rotate(-75.63)" font-size="36.5" font-weight="400" fill="#231f20" stroke="#231f20" stroke-width="1.6" stroke-linejoin="round" text-anchor="middle">I</text>
<text transform="translate(1395 2686.5) rotate(-74.18)" font-size="36.5" font-weight="400" fill="#231f20" stroke="#231f20" stroke-width="1.6" stroke-linejoin="round" text-anchor="middle">O</text>
<text transform="translate(1405.9 2650.2) rotate(-72.31)" font-size="36.5" font-weight="400" fill="#231f20" stroke="#231f20" stroke-width="1.6" stroke-linejoin="round" text-anchor="middle">N</text>
<text transform="translate(3621 2656.2) rotate(72.64)" font-size="36.5" font-weight="400" fill="#231f20" stroke="#231f20" stroke-width="1.6" stroke-linejoin="round" text-anchor="middle">C</text>
<text transform="translate(3630.6 2688.4) rotate(74.29)" font-size="36.5" font-weight="400" fill="#231f20" stroke="#231f20" stroke-width="1.6" stroke-linejoin="round" text-anchor="middle">O</text>
<text transform="translate(3640 2723.8) rotate(76.10)" font-size="36.5" font-weight="400" fill="#231f20" stroke="#231f20" stroke-width="1.6" stroke-linejoin="round" text-anchor="middle">N</text>
<text transform="translate(3648.3 2759.9) rotate(77.92)" font-size="36.5" font-weight="400" fill="#231f20" stroke="#231f20" stroke-width="1.6" stroke-linejoin="round" text-anchor="middle">N</text>
<text transform="translate(3654.6 2791.7) rotate(79.53)" font-size="36.5" font-weight="400" fill="#231f20" stroke="#231f20" stroke-width="1.6" stroke-linejoin="round" text-anchor="middle">E</text>
<text transform="translate(3659.6 2820.7) rotate(80.97)" font-size="36.5" font-weight="400" fill="#231f20" stroke="#231f20" stroke-width="1.6" stroke-linejoin="round" text-anchor="middle">C</text>
<text transform="translate(3663.9 2849.8) rotate(82.42)" font-size="36.5" font-weight="400" fill="#231f20" stroke="#231f20" stroke-width="1.6" stroke-linejoin="round" text-anchor="middle">T</text>
<text transform="translate(3666.8 2873.6) rotate(83.61)" font-size="36.5" font-weight="400" fill="#231f20" stroke="#231f20" stroke-width="1.6" stroke-linejoin="round" text-anchor="middle">I</text>
<text transform="translate(3669.3 2899) rotate(84.87)" font-size="36.5" font-weight="400" fill="#231f20" stroke="#231f20" stroke-width="1.6" stroke-linejoin="round" text-anchor="middle">V</text>
<text transform="translate(3671.3 2924.5) rotate(86.13)" font-size="36.5" font-weight="400" fill="#231f20" stroke="#231f20" stroke-width="1.6" stroke-linejoin="round" text-anchor="middle">I</text>
<text transform="translate(3672.7 2948.4) rotate(87.31)" font-size="36.5" font-weight="400" fill="#231f20" stroke="#231f20" stroke-width="1.6" stroke-linejoin="round" text-anchor="middle">T</text>
<text transform="translate(3673.7 2977.6) rotate(88.75)" font-size="36.5" font-weight="400" fill="#231f20" stroke="#231f20" stroke-width="1.6" stroke-linejoin="round" text-anchor="middle">Y</text>
<text transform="translate(1386.9 2316.5) rotate(-58.61)" font-size="36.5" font-weight="400" fill="#231f20" stroke="#231f20" stroke-width="1.6" stroke-linejoin="round" text-anchor="middle">C</text>
<text transform="translate(1403.2 2290.5) rotate(-57.28)" font-size="36.5" font-weight="400" fill="#231f20" stroke="#231f20" stroke-width="1.6" stroke-linejoin="round" text-anchor="middle">Y</text>
<text transform="translate(1420.4 2264.5) rotate(-55.92)" font-size="36.5" font-weight="400" fill="#231f20" stroke="#231f20" stroke-width="1.6" stroke-linejoin="round" text-anchor="middle">B</text>
<text transform="translate(1437.5 2239.7) rotate(-54.61)" font-size="36.5" font-weight="400" fill="#231f20" stroke="#231f20" stroke-width="1.6" stroke-linejoin="round" text-anchor="middle">E</text>
<text transform="translate(1455.1 2215.5) rotate(-53.31)" font-size="36.5" font-weight="400" fill="#231f20" stroke="#231f20" stroke-width="1.6" stroke-linejoin="round" text-anchor="middle">R</text>
<text transform="translate(1484 2178.2) rotate(-51.26)" font-size="36.5" font-weight="400" fill="#231f20" stroke="#231f20" stroke-width="1.6" stroke-linejoin="round" text-anchor="middle">S</text>
<text transform="translate(1501.7 2156.6) rotate(-50.05)" font-size="36.5" font-weight="400" fill="#231f20" stroke="#231f20" stroke-width="1.6" stroke-linejoin="round" text-anchor="middle">E</text>
<text transform="translate(1520.9 2134.2) rotate(-48.76)" font-size="36.5" font-weight="400" fill="#231f20" stroke="#231f20" stroke-width="1.6" stroke-linejoin="round" text-anchor="middle">C</text>
<text transform="translate(1542.9 2109.7) rotate(-47.33)" font-size="36.5" font-weight="400" fill="#231f20" stroke="#231f20" stroke-width="1.6" stroke-linejoin="round" text-anchor="middle">U</text>
<text transform="translate(1565.8 2085.5) rotate(-45.88)" font-size="36.5" font-weight="400" fill="#231f20" stroke="#231f20" stroke-width="1.6" stroke-linejoin="round" text-anchor="middle">R</text>
<text transform="translate(1584 2067.1) rotate(-44.76)" font-size="36.5" font-weight="400" fill="#231f20" stroke="#231f20" stroke-width="1.6" stroke-linejoin="round" text-anchor="middle">I</text>
<text transform="translate(1601.2 2050.3) rotate(-43.71)" font-size="36.5" font-weight="400" fill="#231f20" stroke="#231f20" stroke-width="1.6" stroke-linejoin="round" text-anchor="middle">T</text>
<text transform="translate(1622.6 2030.3) rotate(-42.44)" font-size="36.5" font-weight="400" fill="#231f20" stroke="#231f20" stroke-width="1.6" stroke-linejoin="round" text-anchor="middle">Y</text>
<text transform="translate(3500.4 2138.7) rotate(48.83)" font-size="36.5" font-weight="400" fill="#231f20" stroke="#231f20" stroke-width="1.6" stroke-linejoin="round" text-anchor="middle">R</text>
<text transform="translate(3515.4 2156.2) rotate(49.84)" font-size="36.5" font-weight="400" fill="#231f20" stroke="#231f20" stroke-width="1.6" stroke-linejoin="round" text-anchor="middle">I</text>
<text transform="translate(3528.9 2172.4) rotate(50.76)" font-size="36.5" font-weight="400" fill="#231f20" stroke="#231f20" stroke-width="1.6" stroke-linejoin="round" text-anchor="middle">S</text>
<text transform="translate(3545.8 2193.5) rotate(51.94)" font-size="36.5" font-weight="400" fill="#231f20" stroke="#231f20" stroke-width="1.6" stroke-linejoin="round" text-anchor="middle">K</text>
<text transform="translate(2338.1 2577.6) rotate(-27.06)" font-size="63" font-weight="700" fill="#231f20" text-anchor="middle">A</text>
<text transform="translate(2396.6 2553.5) rotate(-17.62)" font-size="63" font-weight="700" fill="#231f20" text-anchor="middle">M</text>
<text transform="translate(2457.8 2539.5) rotate(-8.26)" font-size="63" font-weight="700" fill="#231f20" text-anchor="middle">B</text>
<text transform="translate(2501.7 2535.7) rotate(-1.69)" font-size="63" font-weight="700" fill="#231f20" text-anchor="middle">I</text>
<text transform="translate(2542.3 2536.6) rotate(4.37)" font-size="63" font-weight="700" fill="#231f20" text-anchor="middle">T</text>
<text transform="translate(2582.6 2541.9) rotate(10.43)" font-size="63" font-weight="700" fill="#231f20" text-anchor="middle">I</text>
<text transform="translate(2629.1 2553.4) rotate(17.57)" font-size="63" font-weight="700" fill="#231f20" text-anchor="middle">O</text>
<text transform="translate(2687 2577.1) rotate(26.90)" font-size="63" font-weight="700" fill="#231f20" text-anchor="middle">N</text>
<text transform="translate(2292.4 3294.9) rotate(30.48)" font-size="64" font-weight="700" fill="#231f20" text-anchor="middle">A</text>
<text transform="translate(2346.5 3321.9) rotate(22.51)" font-size="64" font-weight="700" fill="#231f20" text-anchor="middle">D</text>
<text transform="translate(2402.6 3340.8) rotate(14.70)" font-size="64" font-weight="700" fill="#231f20" text-anchor="middle">V</text>
<text transform="translate(2459.2 3351.7) rotate(7.10)" font-size="64" font-weight="700" fill="#231f20" text-anchor="middle">A</text>
<text transform="translate(2521.8 3354.9) rotate(-1.16)" font-size="64" font-weight="700" fill="#231f20" text-anchor="middle">N</text>
<text transform="translate(2580.3 3349.8) rotate(-8.90)" font-size="64" font-weight="700" fill="#231f20" text-anchor="middle">T</text>
<text transform="translate(2633.9 3337.9) rotate(-16.13)" font-size="64" font-weight="700" fill="#231f20" text-anchor="middle">A</text>
<text transform="translate(2690.2 3317.3) rotate(-24.04)" font-size="64" font-weight="700" fill="#231f20" text-anchor="middle">G</text>
<text transform="translate(2739.7 3291.3) rotate(-31.41)" font-size="64" font-weight="700" fill="#231f20" text-anchor="middle">E</text>
<text x="2516.2" y="2890" font-size="69" font-weight="700" fill="#fff" text-anchor="middle" textLength="234" lengthAdjust="spacingAndGlyphs">Digital</text>
<text x="2517.5" y="2975.3" font-size="69" font-weight="700" fill="#fff" text-anchor="middle" textLength="544" lengthAdjust="spacingAndGlyphs">transformation</text>
</svg>
</body></html>
